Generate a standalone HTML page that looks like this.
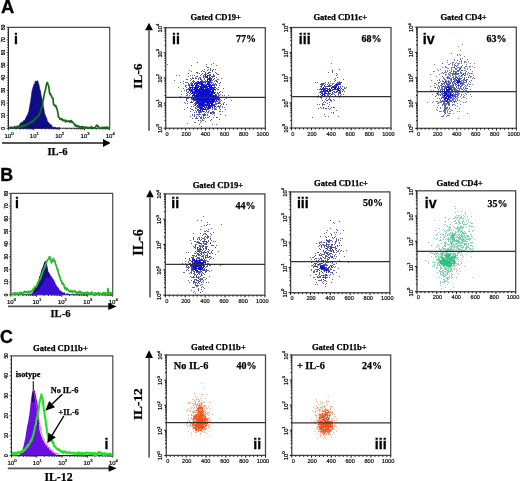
<!DOCTYPE html>
<html><head><meta charset="utf-8"><style>
html,body{margin:0;padding:0;background:#fff;width:520px;height:481px;overflow:hidden}
svg{display:block}
text{fill:#000}
</style></head><body>
<svg width="520" height="481" viewBox="0 0 520 481">
<defs><filter id="soft" x="-5%" y="-5%" width="110%" height="110%"><feGaussianBlur stdDeviation="0.3"/></filter><filter id="glob" x="0" y="0" width="520" height="481" filterUnits="userSpaceOnUse"><feGaussianBlur stdDeviation="0.35"/></filter></defs>
<rect width="520" height="481" fill="#fff"/>
<g filter="url(#glob)">
<rect width="520" height="481" fill="#fff"/>
<text x="1" y="12.9" font-family="'Liberation Sans',sans-serif" font-weight="bold" stroke="#000" stroke-width="0.3" font-size="18.4">A</text>
<text x="0.2" y="180.6" font-family="'Liberation Sans',sans-serif" font-weight="bold" stroke="#000" stroke-width="0.3" font-size="17.8">B</text>
<text x="0" y="343.2" font-family="'Liberation Sans',sans-serif" font-weight="bold" stroke="#000" stroke-width="0.3" font-size="17.8">C</text>
<path d="M8.4 27.3H109.7V128.3" fill="none" stroke="#4a4a4a" stroke-width="1.2"/>
<path d="M8.4 27.3V128.3H109.7" fill="none" stroke="#222" stroke-width="1.1"/>
<path d="M8.4 128.3h-1.8 M8.4 125.78h-1.1 M8.4 123.25h-1.1 M8.4 120.73h-1.1 M8.4 118.2h-1.1 M8.4 115.68h-1.8 M8.4 113.15h-1.1 M8.4 110.62h-1.1 M8.4 108.1h-1.1 M8.4 105.58h-1.1 M8.4 103.05h-1.8 M8.4 100.53h-1.1 M8.4 98h-1.1 M8.4 95.48h-1.1 M8.4 92.95h-1.1 M8.4 90.43h-1.8 M8.4 87.9h-1.1 M8.4 85.38h-1.1 M8.4 82.85h-1.1 M8.4 80.33h-1.1 M8.4 77.8h-1.8 M8.4 75.28h-1.1 M8.4 72.75h-1.1 M8.4 70.22h-1.1 M8.4 67.7h-1.1 M8.4 65.18h-1.8 M8.4 62.65h-1.1 M8.4 60.12h-1.1 M8.4 57.6h-1.1 M8.4 55.08h-1.1 M8.4 52.55h-1.8 M8.4 50.03h-1.1 M8.4 47.5h-1.1 M8.4 44.97h-1.1 M8.4 42.45h-1.1 M8.4 39.92h-1.8 M8.4 37.4h-1.1 M8.4 34.88h-1.1 M8.4 32.35h-1.1 M8.4 29.83h-1.1 M8.4 27.3h-1.8 M8.4 128.3v2.0 M16.02 128.3v1.2 M20.48 128.3v1.2 M23.65 128.3v1.2 M26.1 128.3v1.2 M28.11 128.3v1.2 M29.8 128.3v1.2 M31.27 128.3v1.2 M32.57 128.3v1.2 M33.73 128.3v2.0 M41.35 128.3v1.2 M45.81 128.3v1.2 M48.97 128.3v1.2 M51.43 128.3v1.2 M53.43 128.3v1.2 M55.13 128.3v1.2 M56.6 128.3v1.2 M57.89 128.3v1.2 M59.05 128.3v2.0 M66.67 128.3v1.2 M71.13 128.3v1.2 M74.3 128.3v1.2 M76.75 128.3v1.2 M78.76 128.3v1.2 M80.45 128.3v1.2 M81.92 128.3v1.2 M83.22 128.3v1.2 M84.38 128.3v2.0 M92 128.3v1.2 M96.46 128.3v1.2 M99.62 128.3v1.2 M102.08 128.3v1.2 M104.08 128.3v1.2 M105.78 128.3v1.2 M107.25 128.3v1.2 M108.54 128.3v1.2 M109.7 128.3v2" stroke="#222" stroke-width="0.9" fill="none"/>
<text x="9" y="137.5" font-family="'Liberation Sans',sans-serif" font-size="6" text-anchor="middle" fill="#111" stroke="#111" stroke-width="0.22">10<tspan font-size="4.2" dy="-2.8">0</tspan></text>
<text x="34.33" y="137.5" font-family="'Liberation Sans',sans-serif" font-size="6" text-anchor="middle" fill="#111" stroke="#111" stroke-width="0.22">10<tspan font-size="4.2" dy="-2.8">1</tspan></text>
<text x="59.65" y="137.5" font-family="'Liberation Sans',sans-serif" font-size="6" text-anchor="middle" fill="#111" stroke="#111" stroke-width="0.22">10<tspan font-size="4.2" dy="-2.8">2</tspan></text>
<text x="84.97" y="137.5" font-family="'Liberation Sans',sans-serif" font-size="6" text-anchor="middle" fill="#111" stroke="#111" stroke-width="0.22">10<tspan font-size="4.2" dy="-2.8">3</tspan></text>
<text x="110.3" y="137.5" font-family="'Liberation Sans',sans-serif" font-size="6" text-anchor="middle" fill="#111" stroke="#111" stroke-width="0.22">10<tspan font-size="4.2" dy="-2.8">4</tspan></text>
<text transform="translate(5,128.3) rotate(-90)" font-family="'Liberation Sans',sans-serif" font-size="4.8" text-anchor="middle" fill="#111" stroke="#111" stroke-width="0.22">0</text>
<text transform="translate(5,115.68) rotate(-90)" font-family="'Liberation Sans',sans-serif" font-size="4.8" text-anchor="middle" fill="#111" stroke="#111" stroke-width="0.22">10</text>
<text transform="translate(5,103.05) rotate(-90)" font-family="'Liberation Sans',sans-serif" font-size="4.8" text-anchor="middle" fill="#111" stroke="#111" stroke-width="0.22">20</text>
<text transform="translate(5,90.43) rotate(-90)" font-family="'Liberation Sans',sans-serif" font-size="4.8" text-anchor="middle" fill="#111" stroke="#111" stroke-width="0.22">30</text>
<text transform="translate(5,77.8) rotate(-90)" font-family="'Liberation Sans',sans-serif" font-size="4.8" text-anchor="middle" fill="#111" stroke="#111" stroke-width="0.22">40</text>
<text transform="translate(5,65.18) rotate(-90)" font-family="'Liberation Sans',sans-serif" font-size="4.8" text-anchor="middle" fill="#111" stroke="#111" stroke-width="0.22">50</text>
<text transform="translate(5,52.55) rotate(-90)" font-family="'Liberation Sans',sans-serif" font-size="4.8" text-anchor="middle" fill="#111" stroke="#111" stroke-width="0.22">60</text>
<text transform="translate(5,39.92) rotate(-90)" font-family="'Liberation Sans',sans-serif" font-size="4.8" text-anchor="middle" fill="#111" stroke="#111" stroke-width="0.22">70</text>
<text transform="translate(5,27.3) rotate(-90)" font-family="'Liberation Sans',sans-serif" font-size="4.8" text-anchor="middle" fill="#111" stroke="#111" stroke-width="0.22">80</text>
<path d="M9.0 127.8 L9.4 127.3 L9.9 128.3 L10.3 127.0 L10.8 127.3 L11.2 128.1 L11.7 128.3 L12.1 128.3 L12.6 127.3 L13.0 127.8 L13.5 128.3 L13.9 127.8 L14.4 127.4 L14.8 127.7 L15.3 128.3 L15.7 127.6 L16.2 127.1 L16.6 126.3 L17.1 127.4 L17.5 126.6 L18.0 126.5 L18.4 126.0 L18.9 125.6 L19.3 125.5 L19.8 124.2 L20.2 123.3 L20.7 123.0 L21.1 122.5 L21.6 123.6 L22.0 121.6 L22.5 122.8 L22.9 121.8 L23.4 121.5 L23.8 120.1 L24.3 120.9 L24.7 120.0 L25.2 119.4 L25.6 118.0 L26.1 117.7 L26.5 115.9 L27.0 116.1 L27.4 115.1 L27.9 114.1 L28.3 112.5 L28.8 111.5 L29.2 109.0 L29.7 106.1 L30.1 103.9 L30.6 101.2 L31.0 98.1 L31.5 94.8 L31.9 90.9 L32.4 89.8 L32.8 87.6 L33.3 87.1 L33.7 84.6 L34.2 84.9 L34.6 83.7 L35.1 81.5 L35.5 80.9 L36.0 81.2 L36.4 81.4 L36.9 81.0 L37.3 80.9 L37.8 80.6 L38.2 82.3 L38.7 83.7 L39.1 85.3 L39.6 87.9 L40.0 89.7 L40.5 90.8 L40.9 93.8 L41.4 96.4 L41.8 97.9 L42.3 100.5 L42.7 103.8 L43.2 105.6 L43.6 107.6 L44.1 109.9 L44.5 113.0 L45.0 114.6 L45.4 114.9 L45.9 117.0 L46.3 117.4 L46.8 118.3 L47.2 120.6 L47.7 121.4 L48.1 121.7 L48.6 122.7 L49.0 123.7 L49.5 123.2 L49.9 123.8 L50.4 125.3 L50.8 124.4 L51.3 124.7 L51.7 125.3 L52.2 127.1 L52.6 127.1 L53.1 127.7 L53.5 126.7 L54.0 128.2 L54.4 126.9 L54.9 128.3 L55.3 127.0 L55.8 127.4 L56.2 128.3 L56.7 128.2 L57.1 127.6 L57.6 127.9 L58.0 127.6 L58.5 128.3 L58.9 128.0 L59.4 127.3 L59.8 127.6 L60 128.3 L9.0 128.3 Z" fill="#0a0a86" stroke="#0a0a70" stroke-width="0.5"/>
<path d="M9.0 127.0 L9.5 128.2 L10.0 128.0 L10.5 127.6 L11.0 127.1 L11.5 128.3 L12.0 127.4 L12.5 127.8 L13.0 127.9 L13.5 127.1 L14.0 127.6 L14.5 126.9 L15.0 128.2 L15.5 126.8 L16.0 127.7 L16.5 127.3 L17.0 127.7 L17.5 126.2 L18.0 126.7 L18.5 126.8 L19.0 126.7 L19.5 127.2 L20.0 126.9 L20.5 127.1 L21.0 126.9 L21.5 125.7 L22.0 125.5 L22.5 126.4 L23.0 126.8 L23.5 125.7 L24.0 124.8 L24.5 125.0 L25.0 126.2 L25.5 125.3 L26.0 124.4 L26.5 125.3 L27.0 124.0 L27.5 124.1 L28.0 124.6 L28.5 123.0 L29.0 123.3 L29.5 123.1 L30.0 123.4 L30.5 122.5 L31.0 121.6 L31.5 122.1 L32.0 121.1 L32.5 121.5 L33.0 121.8 L33.5 121.4 L34.0 119.9 L34.5 119.2 L35.0 119.7 L35.5 118.3 L36.0 118.4 L36.5 117.3 L37.0 117.6 L37.5 116.7 L38.0 116.5 L38.5 116.0 L39.0 115.0 L39.5 113.8 L40.0 112.6 L40.5 110.8 L41.0 109.3 L41.5 108.2 L42.0 106.4 L42.5 105.5 L43.0 100.9 L43.5 98.8 L44.0 95.7 L44.5 93.3 L45.0 91.0 L45.5 89.5 L46.0 86.9 L46.5 84.3 L47.0 82.7 L47.5 82.7 L48.0 84.3 L48.5 85.5 L49.0 87.8 L49.5 92.6 L50.0 94.3 L50.5 93.9 L51.0 95.6 L51.5 96.0 L52.0 97.4 L52.5 98.1 L53.0 98.3 L53.5 104.1 L54.0 104.9 L54.5 105.6 L55.0 105.1 L55.5 106.4 L56.0 106.0 L56.5 108.0 L57.0 108.5 L57.5 110.9 L58.0 113.9 L58.5 116.8 L59.0 117.7 L59.5 117.7 L60.0 119.1 L60.5 119.3 L61.0 119.1 L61.5 119.6 L62.0 118.8 L62.5 119.9 L63.0 120.5 L63.5 120.1 L64.0 120.6 L64.5 120.5 L65.0 120.3 L65.5 121.6 L66.0 120.2 L66.5 121.3 L67.0 121.7 L67.5 121.5 L68.0 121.4 L68.5 120.8 L69.0 121.0 L69.5 121.8 L70.0 121.1 L70.5 122.1 L71.0 120.5 L71.5 120.8 L72.0 122.3 L72.5 121.9 L73.0 122.5 L73.5 123.0 L74.0 124.0 L74.5 124.5 L75.0 125.5 L75.5 124.5 L76.0 126.1 L76.5 126.4 L77.0 126.5 L77.5 125.8 L78.0 126.7 L78.5 125.9 L79.0 126.5 L79.5 127.5 L80.0 127.0 L80.5 126.8 L81.0 127.2 L81.5 126.6 L82.0 127.7 L82.5 126.6 L83.0 127.4 L83.5 127.0 L84.0 127.9 L84.5 128.2 L85.0 127.4 L85.5 127.0 L86.0 127.5 L86.5 127.5 L87.0 127.4 L87.5 127.7 L88.0 127.5 L88.5 128.3 L89.0 127.8 L89.5 127.3 L90.0 127.6 L90.5 128.1 L91.0 128.3 L91.5 126.7 L92.0 128.0 L92.5 127.4 L93.0 128.1 L93.5 127.9 L94.0 127.8 L94.5 128.3 L95.0 127.9 L95.5 127.7 L96.0 126.2 L96.5 125.7 L97.0 125.2 L97.5 125.5 L98.0 126.7 L98.5 126.5 L99.0 127.4 L99.5 128.1 L100.0 128.1 L100.5 128.0 L101.0 128.2 L101.5 128.1 L102.0 128.3 L102.5 127.2 L103.0 127.7 L103.5 128.2 L104.0 128.3 L104.5 127.3 L105.0 127.5 L105.5 127.4 L106.0 128.3 L106.5 127.2 L107.0 127.5 L107.5 127.3 L108.0 127.6 L108.5 128.0 L109.0 128.0" fill="none" stroke="#166816" stroke-width="1.7" stroke-linejoin="round"/>
<text x="14" y="43.8" font-family="'Liberation Sans',sans-serif" font-weight="bold" stroke="#000" stroke-width="0.3" font-size="14.2">i</text>
<path d="M2 143H104" stroke="#555" stroke-width="1.8"/><path d="M103 139L110.6 143L103 147Z" fill="#000"/>
<text x="57.5" y="154.6" font-family="'Liberation Serif',serif" font-weight="bold" stroke="#000" stroke-width="0.25" font-size="10.6" text-anchor="middle">IL-6</text>
<path d="M10.9 193.4H112.7V294.8" fill="none" stroke="#4a4a4a" stroke-width="1.2"/>
<path d="M10.9 193.4V294.8H112.7" fill="none" stroke="#222" stroke-width="1.1"/>
<path d="M10.9 294.8h-1.8 M10.9 292.26h-1.1 M10.9 289.73h-1.1 M10.9 287.19h-1.1 M10.9 284.66h-1.1 M10.9 282.12h-1.8 M10.9 279.59h-1.1 M10.9 277.06h-1.1 M10.9 274.52h-1.1 M10.9 271.99h-1.1 M10.9 269.45h-1.8 M10.9 266.92h-1.1 M10.9 264.38h-1.1 M10.9 261.85h-1.1 M10.9 259.31h-1.1 M10.9 256.77h-1.8 M10.9 254.24h-1.1 M10.9 251.71h-1.1 M10.9 249.17h-1.1 M10.9 246.63h-1.1 M10.9 244.1h-1.8 M10.9 241.56h-1.1 M10.9 239.03h-1.1 M10.9 236.5h-1.1 M10.9 233.96h-1.1 M10.9 231.43h-1.8 M10.9 228.89h-1.1 M10.9 226.36h-1.1 M10.9 223.82h-1.1 M10.9 221.29h-1.1 M10.9 218.75h-1.8 M10.9 216.22h-1.1 M10.9 213.68h-1.1 M10.9 211.15h-1.1 M10.9 208.61h-1.1 M10.9 206.07h-1.8 M10.9 203.54h-1.1 M10.9 201h-1.1 M10.9 198.47h-1.1 M10.9 195.94h-1.1 M10.9 193.4h-1.8 M10.9 294.8v2.0 M18.56 294.8v1.2 M23.04 294.8v1.2 M26.22 294.8v1.2 M28.69 294.8v1.2 M30.7 294.8v1.2 M32.41 294.8v1.2 M33.88 294.8v1.2 M35.19 294.8v1.2 M36.35 294.8v2.0 M44.01 294.8v1.2 M48.49 294.8v1.2 M51.67 294.8v1.2 M54.14 294.8v1.2 M56.15 294.8v1.2 M57.86 294.8v1.2 M59.33 294.8v1.2 M60.64 294.8v1.2 M61.8 294.8v2.0 M69.46 294.8v1.2 M73.94 294.8v1.2 M77.12 294.8v1.2 M79.59 294.8v1.2 M81.6 294.8v1.2 M83.31 294.8v1.2 M84.78 294.8v1.2 M86.09 294.8v1.2 M87.25 294.8v2.0 M94.91 294.8v1.2 M99.39 294.8v1.2 M102.57 294.8v1.2 M105.04 294.8v1.2 M107.05 294.8v1.2 M108.76 294.8v1.2 M110.23 294.8v1.2 M111.54 294.8v1.2 M112.7 294.8v2" stroke="#222" stroke-width="0.9" fill="none"/>
<text x="11.5" y="304" font-family="'Liberation Sans',sans-serif" font-size="6" text-anchor="middle" fill="#111" stroke="#111" stroke-width="0.22">10<tspan font-size="4.2" dy="-2.8">0</tspan></text>
<text x="36.95" y="304" font-family="'Liberation Sans',sans-serif" font-size="6" text-anchor="middle" fill="#111" stroke="#111" stroke-width="0.22">10<tspan font-size="4.2" dy="-2.8">1</tspan></text>
<text x="62.4" y="304" font-family="'Liberation Sans',sans-serif" font-size="6" text-anchor="middle" fill="#111" stroke="#111" stroke-width="0.22">10<tspan font-size="4.2" dy="-2.8">2</tspan></text>
<text x="87.85" y="304" font-family="'Liberation Sans',sans-serif" font-size="6" text-anchor="middle" fill="#111" stroke="#111" stroke-width="0.22">10<tspan font-size="4.2" dy="-2.8">3</tspan></text>
<text x="113.3" y="304" font-family="'Liberation Sans',sans-serif" font-size="6" text-anchor="middle" fill="#111" stroke="#111" stroke-width="0.22">10<tspan font-size="4.2" dy="-2.8">4</tspan></text>
<text transform="translate(7.5,294.8) rotate(-90)" font-family="'Liberation Sans',sans-serif" font-size="4.8" text-anchor="middle" fill="#111" stroke="#111" stroke-width="0.22">0</text>
<text transform="translate(7.5,282.12) rotate(-90)" font-family="'Liberation Sans',sans-serif" font-size="4.8" text-anchor="middle" fill="#111" stroke="#111" stroke-width="0.22">10</text>
<text transform="translate(7.5,269.45) rotate(-90)" font-family="'Liberation Sans',sans-serif" font-size="4.8" text-anchor="middle" fill="#111" stroke="#111" stroke-width="0.22">20</text>
<text transform="translate(7.5,256.77) rotate(-90)" font-family="'Liberation Sans',sans-serif" font-size="4.8" text-anchor="middle" fill="#111" stroke="#111" stroke-width="0.22">30</text>
<text transform="translate(7.5,244.1) rotate(-90)" font-family="'Liberation Sans',sans-serif" font-size="4.8" text-anchor="middle" fill="#111" stroke="#111" stroke-width="0.22">40</text>
<text transform="translate(7.5,231.43) rotate(-90)" font-family="'Liberation Sans',sans-serif" font-size="4.8" text-anchor="middle" fill="#111" stroke="#111" stroke-width="0.22">50</text>
<text transform="translate(7.5,218.75) rotate(-90)" font-family="'Liberation Sans',sans-serif" font-size="4.8" text-anchor="middle" fill="#111" stroke="#111" stroke-width="0.22">60</text>
<text transform="translate(7.5,206.07) rotate(-90)" font-family="'Liberation Sans',sans-serif" font-size="4.8" text-anchor="middle" fill="#111" stroke="#111" stroke-width="0.22">70</text>
<text transform="translate(7.5,193.4) rotate(-90)" font-family="'Liberation Sans',sans-serif" font-size="4.8" text-anchor="middle" fill="#111" stroke="#111" stroke-width="0.22">80</text>
<path d="M30.0 294.8 L30.5 293.8 L31.0 294.3 L31.5 293.2 L32.0 292.7 L32.5 293.0 L33.0 292.8 L33.5 290.5 L34.0 291.2 L34.5 288.7 L35.0 287.9 L35.5 287.3 L36.0 287.8 L36.5 285.6 L37.0 285.4 L37.5 282.8 L38.0 282.5 L38.5 281.7 L39.0 280.2 L39.5 278.3 L40.0 276.1 L40.5 275.1 L41.0 274.2 L41.5 270.9 L42.0 270.0 L42.5 268.0 L43.0 266.7 L43.5 266.2 L44.0 264.2 L44.5 262.9 L45.0 262.5 L45.5 261.7 L46.0 261.8 L46.5 264.2 L47.0 267.5 L47.5 271.1 L48.0 271.8 L48.5 272.6 L49.0 274.2 L49.5 273.8 L50.0 273.8 L50.5 275.0 L51.0 276.3 L51.5 276.6 L52.0 276.4 L52.5 278.6 L53.0 278.4 L53.5 279.6 L54.0 279.5 L54.5 281.7 L55.0 281.4 L55.5 283.8 L56.0 284.7 L56.5 284.9 L57.0 286.5 L57.5 286.8 L58.0 287.6 L58.5 287.6 L59.0 288.7 L59.5 290.4 L60.0 290.2 L60.5 290.3 L61.0 291.2 L61.5 291.2 L62.0 291.8 L62.5 292.4 L63.0 291.4 L63.5 292.7 L64.0 292.6 L64.5 291.9 L65.0 293.3 L65.5 294.0 L66.0 294.1 L66.5 293.6 L67.0 292.6 L67.5 293.4 L68.0 293.7 L68.5 293.6 L69.0 294.7 L69.5 294.8 L70.0 293.8 L70.5 294.8 L71.0 293.7 L71.5 294.5 L72.0 294.8 L72.5 294.3 L73.0 293.6 L73.5 294.8 L74.0 294.8 L74.5 294.7 L75.0 294.8 L75 294.8 L30 294.8 Z" fill="#3c10d8"/>
<path d="M33.0 292.7 L33.5 292.2 L34.0 290.6 L34.5 290.6 L35.0 288.6 L35.5 288.3 L36.0 286.7 L36.5 285.6 L37.0 284.6 L37.5 283.8 L38.0 282.2 L38.5 280.9 L39.0 280.0 L39.5 278.2 L40.0 276.1 L40.5 275.2 L41.0 273.2 L41.5 272.0 L42.0 269.5 L42.5 268.4 L43.0 267.7 L43.5 266.1 L44.0 264.5 L44.5 263.0 L45.0 261.5 L45.5 261.6 L46.0 262.1 L46.5 263.9 L47.0 267.1 L47.5 270.1 L48.0 271.9 L48.5 272.4 L49.0 273.7 L49 278 L46 276 L43 282 L38 290Z" fill="#1a0a90" stroke="#10085a" stroke-width="0.9"/>
<path d="M11.4 293.8 L11.9 294.2 L12.4 293.7 L12.9 293.5 L13.4 293.1 L13.9 294.6 L14.4 293.1 L14.9 294.6 L15.4 294.8 L15.9 292.7 L16.4 294.1 L16.9 294.2 L17.4 293.3 L17.9 293.0 L18.4 294.1 L18.9 293.6 L19.4 294.3 L19.9 293.0 L20.4 292.2 L20.9 292.3 L21.4 294.0 L21.9 293.0 L22.4 293.7 L22.9 293.0 L23.4 292.5 L23.9 292.6 L24.4 291.5 L24.9 292.8 L25.4 291.8 L25.9 291.5 L26.4 292.2 L26.9 292.7 L27.4 292.9 L27.9 291.7 L28.4 292.1 L28.9 291.2 L29.4 292.9 L29.9 292.3 L30.4 292.5 L30.9 291.1 L31.4 291.0 L31.9 291.5 L32.4 290.7 L32.9 290.7 L33.4 288.5 L33.9 288.5 L34.4 288.7 L34.9 286.9 L35.4 286.8 L35.9 287.0 L36.4 286.1 L36.9 285.8 L37.4 283.6 L37.9 283.6 L38.4 281.9 L38.9 281.0 L39.4 279.6 L39.9 279.8 L40.4 278.4 L40.9 277.4 L41.4 274.3 L41.9 274.9 L42.4 272.8 L42.9 271.4 L43.4 269.3 L43.9 269.2 L44.4 268.4 L44.9 265.5 L45.4 266.3 L45.9 263.7 L46.4 261.9 L46.9 261.3 L47.4 260.2 L47.9 259.6 L48.4 259.1 L48.9 259.0 L49.4 256.6 L49.9 257.0 L50.4 258.1 L50.9 259.8 L51.4 262.8 L51.9 261.8 L52.4 261.1 L52.9 260.5 L53.4 258.5 L53.9 260.5 L54.4 261.0 L54.9 261.0 L55.4 263.6 L55.9 264.7 L56.4 266.2 L56.9 267.5 L57.4 269.9 L57.9 269.7 L58.4 272.7 L58.9 274.5 L59.4 276.2 L59.9 276.7 L60.4 278.7 L60.9 280.4 L61.4 280.9 L61.9 283.0 L62.4 283.9 L62.9 283.1 L63.4 284.3 L63.9 285.0 L64.4 287.1 L64.9 288.8 L65.4 288.5 L65.9 287.7 L66.4 289.9 L66.9 289.2 L67.4 288.7 L67.9 289.4 L68.4 290.4 L68.9 291.2 L69.4 291.6 L69.9 291.1 L70.4 291.9 L70.9 290.5 L71.4 290.9 L71.9 291.4 L72.4 292.5 L72.9 291.1 L73.4 291.8 L73.9 291.2 L74.4 291.5 L74.9 290.8 L75.4 291.7 L75.9 292.9 L76.4 292.4 L76.9 293.2 L77.4 292.6 L77.9 292.0 L78.4 293.0 L78.9 292.0 L79.4 291.5 L79.9 292.8 L80.4 291.6 L80.9 291.6 L81.4 293.2 L81.9 294.0 L82.4 293.3 L82.9 292.7 L83.4 292.8 L83.9 293.5 L84.4 293.4 L84.9 292.7 L85.4 292.4 L85.9 294.0 L86.4 293.9 L86.9 293.0 L87.4 292.1 L87.9 292.6 L88.4 293.1 L88.9 294.3 L89.4 293.3 L89.9 294.1 L90.4 293.0 L90.9 293.9 L91.4 293.4 L91.9 292.2 L92.4 293.9 L92.9 294.6 L93.4 294.1 L93.9 294.6 L94.4 294.6 L94.9 292.9 L95.4 292.9 L95.9 294.5 L96.4 294.7 L96.9 293.2 L97.4 294.1 L97.9 293.7 L98.4 292.6 L98.9 293.8 L99.4 294.0 L99.9 293.2 L100.4 293.7 L100.9 294.0 L101.4 293.8 L101.9 293.7 L102.4 294.7 L102.9 292.9 L103.4 292.9 L103.9 294.6 L104.4 292.7 L104.9 293.0 L105.4 293.3 L105.9 293.4 L106.4 294.7 L106.9 293.3 L107.4 294.5 L107.9 288.6 L108.4 292.9 L108.9 292.9 L109.4 293.6 L109.9 294.5 L110.4 292.6 L110.9 293.2 L111.4 294.4 L111.9 293.2 L112.4 293.6" fill="none" stroke="#2ab82a" stroke-width="1.8" stroke-linejoin="round"/>
<text x="15" y="207.6" font-family="'Liberation Sans',sans-serif" font-weight="bold" stroke="#000" stroke-width="0.3" font-size="14.2">i</text>
<path d="M8 306.4H109" stroke="#555" stroke-width="1.8"/><path d="M108.3 302.8L116.6 306.4L108.3 310Z" fill="#000"/>
<text x="60.5" y="317.2" font-family="'Liberation Serif',serif" font-weight="bold" stroke="#000" stroke-width="0.25" font-size="10.6" text-anchor="middle">IL-6</text>
<path d="M11.4 355.9H112.8V455.6" fill="none" stroke="#4a4a4a" stroke-width="1.2"/>
<path d="M11.4 355.9V455.6H112.8" fill="none" stroke="#222" stroke-width="1.1"/>
<path d="M11.4 455.6h-1.8 M11.4 451.61h-1.1 M11.4 447.62h-1.1 M11.4 443.64h-1.1 M11.4 439.65h-1.1 M11.4 435.66h-1.8 M11.4 431.67h-1.1 M11.4 427.68h-1.1 M11.4 423.7h-1.1 M11.4 419.71h-1.1 M11.4 415.72h-1.8 M11.4 411.73h-1.1 M11.4 407.74h-1.1 M11.4 403.76h-1.1 M11.4 399.77h-1.1 M11.4 395.78h-1.8 M11.4 391.79h-1.1 M11.4 387.8h-1.1 M11.4 383.82h-1.1 M11.4 379.83h-1.1 M11.4 375.84h-1.8 M11.4 371.85h-1.1 M11.4 367.86h-1.1 M11.4 363.88h-1.1 M11.4 359.89h-1.1 M11.4 355.9h-1.8 M11.4 455.6v2.0 M19.03 455.6v1.2 M23.5 455.6v1.2 M26.66 455.6v1.2 M29.12 455.6v1.2 M31.13 455.6v1.2 M32.82 455.6v1.2 M34.29 455.6v1.2 M35.59 455.6v1.2 M36.75 455.6v2.0 M44.38 455.6v1.2 M48.85 455.6v1.2 M52.01 455.6v1.2 M54.47 455.6v1.2 M56.48 455.6v1.2 M58.17 455.6v1.2 M59.64 455.6v1.2 M60.94 455.6v1.2 M62.1 455.6v2.0 M69.73 455.6v1.2 M74.2 455.6v1.2 M77.36 455.6v1.2 M79.82 455.6v1.2 M81.83 455.6v1.2 M83.52 455.6v1.2 M84.99 455.6v1.2 M86.29 455.6v1.2 M87.45 455.6v2.0 M95.08 455.6v1.2 M99.55 455.6v1.2 M102.71 455.6v1.2 M105.17 455.6v1.2 M107.18 455.6v1.2 M108.87 455.6v1.2 M110.34 455.6v1.2 M111.64 455.6v1.2 M112.8 455.6v2" stroke="#222" stroke-width="0.9" fill="none"/>
<text x="12" y="464.8" font-family="'Liberation Sans',sans-serif" font-size="6" text-anchor="middle" fill="#111" stroke="#111" stroke-width="0.22">10<tspan font-size="4.2" dy="-2.8">0</tspan></text>
<text x="37.35" y="464.8" font-family="'Liberation Sans',sans-serif" font-size="6" text-anchor="middle" fill="#111" stroke="#111" stroke-width="0.22">10<tspan font-size="4.2" dy="-2.8">1</tspan></text>
<text x="62.7" y="464.8" font-family="'Liberation Sans',sans-serif" font-size="6" text-anchor="middle" fill="#111" stroke="#111" stroke-width="0.22">10<tspan font-size="4.2" dy="-2.8">2</tspan></text>
<text x="88.05" y="464.8" font-family="'Liberation Sans',sans-serif" font-size="6" text-anchor="middle" fill="#111" stroke="#111" stroke-width="0.22">10<tspan font-size="4.2" dy="-2.8">3</tspan></text>
<text x="113.4" y="464.8" font-family="'Liberation Sans',sans-serif" font-size="6" text-anchor="middle" fill="#111" stroke="#111" stroke-width="0.22">10<tspan font-size="4.2" dy="-2.8">4</tspan></text>
<text transform="translate(8,455.6) rotate(-90)" font-family="'Liberation Sans',sans-serif" font-size="4.8" text-anchor="middle" fill="#111" stroke="#111" stroke-width="0.22">0</text>
<text transform="translate(8,435.66) rotate(-90)" font-family="'Liberation Sans',sans-serif" font-size="4.8" text-anchor="middle" fill="#111" stroke="#111" stroke-width="0.22">10</text>
<text transform="translate(8,415.72) rotate(-90)" font-family="'Liberation Sans',sans-serif" font-size="4.8" text-anchor="middle" fill="#111" stroke="#111" stroke-width="0.22">20</text>
<text transform="translate(8,395.78) rotate(-90)" font-family="'Liberation Sans',sans-serif" font-size="4.8" text-anchor="middle" fill="#111" stroke="#111" stroke-width="0.22">30</text>
<text transform="translate(8,375.84) rotate(-90)" font-family="'Liberation Sans',sans-serif" font-size="4.8" text-anchor="middle" fill="#111" stroke="#111" stroke-width="0.22">40</text>
<text transform="translate(8,355.9) rotate(-90)" font-family="'Liberation Sans',sans-serif" font-size="4.8" text-anchor="middle" fill="#111" stroke="#111" stroke-width="0.22">50</text>
<path d="M18.0 455.4 L18.4 455.4 L18.9 454.9 L19.3 454.9 L19.8 454.8 L20.2 453.7 L20.7 452.9 L21.1 452.8 L21.6 452.3 L22.0 450.8 L22.5 449.6 L22.9 447.8 L23.4 446.8 L23.8 444.8 L24.3 442.6 L24.7 440.5 L25.2 438.8 L25.6 436.3 L26.1 432.6 L26.5 430.2 L27.0 427.1 L27.4 425.1 L27.9 423.0 L28.3 421.3 L28.8 417.5 L29.2 415.6 L29.7 411.6 L30.1 408.0 L30.6 403.3 L31.0 399.6 L31.5 396.5 L31.9 393.3 L32.4 392.4 L32.8 390.7 L33.3 390.6 L33.7 389.8 L34.2 390.1 L34.6 390.9 L35.1 391.9 L35.5 393.6 L36.0 395.7 L36.4 398.3 L36.9 400.4 L37.3 401.7 L37.8 405.9 L38.2 409.0 L38.7 415.6 L39.1 423.2 L39.6 430.5 L40.0 431.4 L40.5 433.7 L40.9 434.6 L41.4 436.2 L41.8 436.9 L42.3 438.1 L42.7 439.8 L43.2 440.5 L43.6 440.8 L44.1 441.9 L44.5 442.9 L45.0 443.4 L45.4 443.7 L45.9 445.4 L46.3 445.7 L46.8 445.5 L47.2 446.8 L47.7 447.7 L48.1 447.6 L48.6 447.7 L49.0 448.3 L49.5 449.9 L49.9 449.7 L50.4 450.3 L50.8 450.5 L51.3 450.8 L51.7 450.9 L52.2 451.7 L52.6 452.4 L53.1 452.7 L53.5 452.6 L54.0 453.0 L54.4 453.0 L54.9 454.3 L55.3 454.1 L55.8 454.0 L56.2 454.9 L56.7 454.3 L57.1 454.8 L57.6 454.9 L58 455.6 L18 455.6 Z" fill="#6a0ae0"/>
<path d="M31.8 402 L32.6 392 L33.4 389 L34.4 390 L35.2 402 Z" fill="#2a0080"/>
<path d="M33.3 381.3 V398" stroke="#111" stroke-width="1.1"/>
<path d="M33.5 389.9 L34.1 392.9 L34.7 396.5 L35.3 400.1 L35.9 404.2 L36.5 407.9 L37.1 411.2 L37.7 414.4 L38.3 417.5 L38.9 419.7 L39.5 423.0 L40.1 425.5 L40.7 428.9 L41.3 431.7 L41.9 434.5 L42.5 436.6 L43.1 438.1 L43.7 439.5 L44.3 440.2 L44.9 441.8 L45.5 442.6 L46.1 443.5 L46.7 444.7 L47.3 445.3 L47.9 446.4 L48.5 446.6 L49.1 447.3 L49.7 448.3 L50.3 449.0 L50.9 449.7 L51.5 450.2 L52.1 451.0 L52.7 450.9 L53.3 451.5 L53.9 452.4 L54.5 452.8 L55.1 453.4 L55.7 453.2 L56.3 453.3 L56.9 453.9 L57.5 453.5 L58.1 453.9 L58.7 454.1 L59.3 454.6 L59.9 454.2" fill="none" stroke="#e040c8" stroke-width="1.2" stroke-dasharray="1.4 1"/>
<path d="M11.9 453.1 L12.4 453.0 L12.9 454.5 L13.4 452.8 L13.9 454.8 L14.4 453.5 L14.9 453.3 L15.4 452.7 L15.9 454.4 L16.4 454.3 L16.9 453.9 L17.4 452.3 L17.9 452.0 L18.4 453.1 L18.9 452.7 L19.4 453.6 L19.9 452.4 L20.4 451.6 L20.9 451.8 L21.4 451.5 L21.9 452.3 L22.4 450.7 L22.9 451.8 L23.4 449.7 L23.9 450.1 L24.4 450.5 L24.9 450.3 L25.4 448.5 L25.9 448.4 L26.4 447.0 L26.9 446.5 L27.4 447.2 L27.9 444.7 L28.4 444.9 L28.9 445.0 L29.4 443.7 L29.9 442.9 L30.4 441.8 L30.9 440.2 L31.4 440.8 L31.9 439.6 L32.4 437.1 L32.9 436.5 L33.4 435.2 L33.9 431.3 L34.4 430.8 L34.9 427.2 L35.4 425.4 L35.9 424.0 L36.4 419.4 L36.9 418.9 L37.4 416.1 L37.9 412.4 L38.4 411.5 L38.9 407.7 L39.4 403.0 L39.9 400.2 L40.4 399.1 L40.9 396.8 L41.4 394.4 L41.9 397.1 L42.4 398.4 L42.9 400.8 L43.4 405.8 L43.9 409.3 L44.4 412.0 L44.9 417.0 L45.4 418.4 L45.9 423.3 L46.4 426.2 L46.9 430.4 L47.4 432.9 L47.9 436.4 L48.4 437.0 L48.9 439.6 L49.4 438.4 L49.9 439.0 L50.4 439.4 L50.9 440.1 L51.4 441.3 L51.9 440.6 L52.4 440.9 L52.9 443.3 L53.4 442.8 L53.9 445.4 L54.4 446.4 L54.9 446.3 L55.4 446.9 L55.9 447.8 L56.4 448.0 L56.9 448.7 L57.4 449.5 L57.9 449.0 L58.4 449.0 L58.9 450.5 L59.4 450.0 L59.9 450.2 L60.4 451.0 L60.9 451.5 L61.4 451.9 L61.9 451.4 L62.4 452.7 L62.9 451.3 L63.4 452.8 L63.9 451.7 L64.4 451.6 L64.9 451.4 L65.4 452.3 L65.9 451.9 L66.4 452.2 L66.9 453.4 L67.4 453.0 L67.9 452.8 L68.4 452.9 L68.9 452.0 L69.4 452.2 L69.9 452.7 L70.4 452.8 L70.9 453.1 L71.4 453.1 L71.9 453.0 L72.4 453.6 L72.9 453.7 L73.4 453.1 L73.9 452.6 L74.4 453.6 L74.9 453.7 L75.4 454.3 L75.9 453.9 L76.4 452.9 L76.9 454.3 L77.4 453.9 L77.9 452.7 L78.4 454.1 L78.9 452.5 L79.4 452.9 L79.9 454.3 L80.4 454.0 L80.9 454.4 L81.4 452.7 L81.9 453.0 L82.4 454.0 L82.9 453.0 L83.4 454.8 L83.9 453.5 L84.4 454.2 L84.9 453.1 L85.4 453.3 L85.9 452.6 L86.4 453.4 L86.9 452.9 L87.4 452.6 L87.9 453.9 L88.4 452.9 L88.9 452.8 L89.4 453.0 L89.9 454.4 L90.4 453.2 L90.9 452.9 L91.4 453.8 L91.9 453.4 L92.4 454.3 L92.9 454.6 L93.4 452.9 L93.9 453.2 L94.4 454.9 L94.9 453.1 L95.4 455.1 L95.9 454.3 L96.4 453.5 L96.9 454.9 L97.4 454.1 L97.9 452.5 L98.4 452.5 L98.9 453.5 L99.4 452.0 L99.9 453.6 L100.4 452.8 L100.9 452.5 L101.4 454.1 L101.9 453.0 L102.4 454.8 L102.9 454.0 L103.4 455.1 L103.9 453.5 L104.4 453.1 L104.9 454.5 L105.4 455.0 L105.9 454.9 L106.4 453.9 L106.9 453.6 L107.4 454.7 L107.9 454.8 L108.4 454.3 L108.9 453.9 L109.4 454.5 L109.9 453.5 L110.4 454.1 L110.9 455.0 L111.4 455.3 L111.9 454.3 L112.4 453.7" fill="none" stroke="#22e022" stroke-width="2.1" stroke-linejoin="round"/>
<text x="104.4" y="448.9" font-family="'Liberation Sans',sans-serif" font-weight="bold" stroke="#000" stroke-width="0.3" font-size="14.2">i</text>
<text x="15.8" y="377.3" font-family="'Liberation Serif',serif" font-weight="bold" stroke="#000" stroke-width="0.25" font-size="8.2">isotype</text>
<text x="50.8" y="392.7" font-family="'Liberation Serif',serif" font-weight="bold" stroke="#000" stroke-width="0.25" font-size="8.2">No IL-6</text>
<text x="58.6" y="414.5" font-family="'Liberation Serif',serif" font-weight="bold" stroke="#000" stroke-width="0.25" font-size="8.2">+IL-6</text>
<path d="M62.3 394.3L52.14 404.1" stroke="#000" stroke-width="1.4"/><path d="M45.3 410.7L49.15 401.01L55.12 407.2Z" fill="#000"/>
<path d="M63.8 416L52.15 435.09" stroke="#000" stroke-width="1.4"/><path d="M47.2 443.2L48.48 432.85L55.82 437.33Z" fill="#000"/>
<path d="M7.8 468.3H109" stroke="#555" stroke-width="1.8"/><path d="M108.6 465L116.7 468.3L108.6 471.8Z" fill="#000"/>
<text x="58.5" y="481.2" font-family="'Liberation Serif',serif" font-weight="bold" stroke="#000" stroke-width="0.25" font-size="11.8" text-anchor="middle">IL-12</text>
<text x="60.4" y="351.2" font-family="'Liberation Serif',serif" font-weight="bold" stroke="#000" stroke-width="0.25" font-size="8.6" text-anchor="middle">Gated CD11b+</text>
<path d="M149 30.3V130.7" stroke="#555" stroke-width="1.6"/><path d="M149 22.7L152.9 30.3L145.1 30.3Z" fill="#000"/>
<text transform="translate(141.7,76.1) rotate(-90)" font-family="'Liberation Serif',serif" font-weight="bold" stroke="#000" stroke-width="0.25" font-size="13.3" text-anchor="middle">IL-6</text>
<path d="M150 197.2V297.5" stroke="#555" stroke-width="1.6"/><path d="M150 189.8L153.8 197.2L146.2 197.2Z" fill="#000"/>
<text transform="translate(143.2,242.6) rotate(-90)" font-family="'Liberation Serif',serif" font-weight="bold" stroke="#000" stroke-width="0.25" font-size="14" text-anchor="middle">IL-6</text>
<path d="M149.1 357.9V457.5" stroke="#555" stroke-width="1.6"/><path d="M149.1 350.3L153 357.9L145.2 357.9Z" fill="#000"/>
<text transform="translate(141.8,404.2) rotate(-90)" font-family="'Liberation Serif',serif" font-weight="bold" stroke="#000" stroke-width="0.25" font-size="13.3" text-anchor="middle">IL-12</text>
<rect x="165.7" y="27.7" width="99.6" height="100.5" fill="none" stroke="#4a4a4a" stroke-width="1.3"/>
<path d="M165.7 128.2h-2.0 M165.7 120.64h-1.2 M165.7 116.21h-1.2 M165.7 113.07h-1.2 M165.7 110.64h-1.2 M165.7 108.65h-1.2 M165.7 106.97h-1.2 M165.7 105.51h-1.2 M165.7 104.22h-1.2 M165.7 103.07h-2.0 M165.7 95.51h-1.2 M165.7 91.09h-1.2 M165.7 87.95h-1.2 M165.7 85.51h-1.2 M165.7 83.52h-1.2 M165.7 81.84h-1.2 M165.7 80.38h-1.2 M165.7 79.1h-1.2 M165.7 77.95h-2.0 M165.7 70.39h-1.2 M165.7 65.96h-1.2 M165.7 62.82h-1.2 M165.7 60.39h-1.2 M165.7 58.4h-1.2 M165.7 56.72h-1.2 M165.7 55.26h-1.2 M165.7 53.97h-1.2 M165.7 52.83h-2.0 M165.7 45.26h-1.2 M165.7 40.84h-1.2 M165.7 37.7h-1.2 M165.7 35.26h-1.2 M165.7 33.27h-1.2 M165.7 31.59h-1.2 M165.7 30.13h-1.2 M165.7 28.85h-1.2 M165.7 27.7h-2 M165.7 128.2v2.2 M169.68 128.2v1.4 M173.67 128.2v1.4 M177.65 128.2v1.4 M181.64 128.2v1.4 M185.62 128.2v2.2 M189.6 128.2v1.4 M193.59 128.2v1.4 M197.57 128.2v1.4 M201.56 128.2v1.4 M205.54 128.2v2.2 M209.52 128.2v1.4 M213.51 128.2v1.4 M217.49 128.2v1.4 M221.48 128.2v1.4 M225.46 128.2v2.2 M229.44 128.2v1.4 M233.43 128.2v1.4 M237.41 128.2v1.4 M241.4 128.2v1.4 M245.38 128.2v2.2 M249.36 128.2v1.4 M253.35 128.2v1.4 M257.33 128.2v1.4 M261.32 128.2v1.4 M265.3 128.2v2.2" stroke="#111" stroke-width="1.0" fill="none"/>
<text x="167.1" y="135.8" font-family="'Liberation Sans',sans-serif" font-size="5.6" text-anchor="middle" fill="#111" stroke="#111" stroke-width="0.18">0</text>
<text x="186.22" y="135.8" font-family="'Liberation Sans',sans-serif" font-size="5.6" text-anchor="middle" fill="#111" stroke="#111" stroke-width="0.18">200</text>
<text x="205.34" y="135.8" font-family="'Liberation Sans',sans-serif" font-size="5.6" text-anchor="middle" fill="#111" stroke="#111" stroke-width="0.18">400</text>
<text x="224.46" y="135.8" font-family="'Liberation Sans',sans-serif" font-size="5.6" text-anchor="middle" fill="#111" stroke="#111" stroke-width="0.18">600</text>
<text x="243.58" y="135.8" font-family="'Liberation Sans',sans-serif" font-size="5.6" text-anchor="middle" fill="#111" stroke="#111" stroke-width="0.18">800</text>
<text x="262.7" y="135.8" font-family="'Liberation Sans',sans-serif" font-size="5.6" text-anchor="middle" fill="#111" stroke="#111" stroke-width="0.18">1000</text>
<text transform="translate(161.7,128.6) rotate(-90)" font-family="'Liberation Sans',sans-serif" font-size="5.8" text-anchor="middle" fill="#111" stroke="#111" stroke-width="0.22">10<tspan font-size="4.2" dy="-2.7">0</tspan></text>
<text transform="translate(161.7,103.47) rotate(-90)" font-family="'Liberation Sans',sans-serif" font-size="5.8" text-anchor="middle" fill="#111" stroke="#111" stroke-width="0.22">10<tspan font-size="4.2" dy="-2.7">1</tspan></text>
<text transform="translate(161.7,78.35) rotate(-90)" font-family="'Liberation Sans',sans-serif" font-size="5.8" text-anchor="middle" fill="#111" stroke="#111" stroke-width="0.22">10<tspan font-size="4.2" dy="-2.7">2</tspan></text>
<text transform="translate(161.7,53.23) rotate(-90)" font-family="'Liberation Sans',sans-serif" font-size="5.8" text-anchor="middle" fill="#111" stroke="#111" stroke-width="0.22">10<tspan font-size="4.2" dy="-2.7">3</tspan></text>
<text transform="translate(161.7,28.1) rotate(-90)" font-family="'Liberation Sans',sans-serif" font-size="5.8" text-anchor="middle" fill="#111" stroke="#111" stroke-width="0.22">10<tspan font-size="4.2" dy="-2.7">4</tspan></text>
<g filter="url(#soft)">
<path d="M215 102.5h1M221 104.5h1M191 109.5h1M186 97.5h1M212 114.5h1M217 89.5h1M189 95.5h1M195 103.5h1M214 88.5h1M196 106.5h1M220 101.5h1M189 84.5h1M220 99.5h1M193 82.5h1M217 103.5h1M183 88.5h1M218 105.5h1M215 109.5h1M193 101.5h1M219 100.5h1M215 103.5h1M219 108.5h1M224 107.5h1M217 92.5h1M219 95.5h1M224 102.5h1M185 97.5h1M215 92.5h1M208 117.5h1M186 89.5h1M221 100.5h1M212 84.5h1M187 89.5h1M216 103.5h1M216 107.5h1M224 99.5h1M219 101.5h1M198 79.5h1M189 93.5h1M194 103.5h1M190 94.5h1M187 94.5h1M187 101.5h1M191 99.5h1M189 85.5h1M186 87.5h1M187 98.5h1M187 92.5h1M186 91.5h1M188 84.5h1M226 104.5h1M220 94.5h1M218 95.5h1M220 91.5h1M202 80.5h1M225 115.5h1M204 82.5h1M204 111.5h1M193 80.5h1M218 96.5h1M219 103.5h1M223 103.5h1M204 79.5h1M184 102.5h1M186 100.5h1M209 116.5h1M212 109.5h1M220 111.5h1M222 111.5h1M187 107.5h1M202 73.5h1M188 89.5h1M215 90.5h1M217 93.5h1M192 81.5h1M206 109.5h1M195 108.5h1M206 111.5h1M188 91.5h1M203 76.5h1M185 86.5h1M191 65.5h1M183 81.5h1M219 99.5h1M216 104.5h1M222 107.5h1M218 89.5h1M208 109.5h1M208 112.5h1M219 106.5h1M220 106.5h1M223 88.5h1M213 83.5h1M200 75.5h1M196 76.5h1M222 106.5h1M179 75.5h1M224 95.5h1M184 90.5h1M188 92.5h1M220 97.5h1M186 93.5h1M188 76.5h1M190 78.5h1M213 111.5h1M196 104.5h1M194 114.5h1M199 73.5h1M194 81.5h1M183 83.5h1M198 112.5h1M219 102.5h1M194 105.5h1M192 75.5h1M216 85.5h1M214 113.5h1M212 111.5h1M190 83.5h1M211 112.5h1M220 109.5h1M222 92.5h1M190 111.5h1M197 82.5h1M215 108.5h1M192 77.5h1M214 108.5h1M191 82.5h1M181 91.5h1M213 117.5h1M196 112.5h1M192 78.5h1M217 101.5h1M191 106.5h1M220 105.5h1M192 98.5h1M186 85.5h1M217 117.5h1M190 75.5h1M190 97.5h1M191 83.5h1M187 103.5h1M231 100.5h1M199 77.5h1M201 80.5h1M217 106.5h1M212 108.5h1M186 79.5h1M205 112.5h1M191 71.5h1M215 104.5h1M218 100.5h1M205 80.5h1M214 115.5h1M218 97.5h1M187 79.5h1M187 82.5h1M190 85.5h1M212 124.5h1M219 119.5h1M220 114.5h1M225 109.5h1M190 80.5h1M214 109.5h1M198 114.5h1M190 116.5h1M214 112.5h1M194 75.5h1M196 116.5h1M207 115.5h1M228 95.5h1M202 120.5h1M192 109.5h1M176 75.5h1M186 82.5h1M218 94.5h1M204 118.5h1M173 97.5h1M216 88.5h1M188 98.5h1M216 94.5h1M181 94.5h1M216 124.5h1M180 82.5h1M186 98.5h1M193 100.5h1M196 72.5h1M210 120.5h1M210 108.5h1M191 79.5h1M198 110.5h1M199 124.5h1M220 103.5h1M217 82.5h1M226 97.5h1M222 95.5h1M195 107.5h1M191 102.5h1M195 78.5h1M185 103.5h1M216 109.5h1M195 77.5h1M204 74.5h1M197 62.5h1M187 123.5h1M190 108.5h1M218 93.5h1M193 104.5h1M192 102.5h1M186 95.5h1M189 88.5h1M192 84.5h1M167 64.5h1M188 85.5h1M180 96.5h1M184 109.5h1M219 111.5h1M188 83.5h1M189 70.5h1M194 122.5h1M214 107.5h1M186 90.5h1M226 98.5h1M185 82.5h1M187 95.5h1M198 78.5h1M185 85.5h1M178 87.5h1M207 114.5h1M196 78.5h1M174 80.5h1M211 119.5h1M210 72.5h1M200 77.5h1M214 81.5h1M219 85.5h1M210 70.5h1M203 81.5h1M204 71.5h1M216 65.5h1M206 64.5h1M201 71.5h1M215 83.5h1M213 69.5h1M217 79.5h1M210 74.5h1M212 77.5h1M212 80.5h1M205 73.5h1M202 70.5h1M210 68.5h1M213 84.5h1M220 82.5h1M214 86.5h1M213 75.5h1M207 78.5h1M211 83.5h1M201 79.5h1M212 71.5h1M214 75.5h1M204 81.5h1M211 76.5h1M209 74.5h1M204 76.5h1M212 82.5h1M214 76.5h1M206 74.5h1M207 70.5h1M216 77.5h1M217 81.5h1M218 87.5h1M208 69.5h1M205 81.5h1M211 80.5h1M215 84.5h1M216 84.5h1M203 71.5h1M197 73.5h1M218 79.5h1M208 67.5h1M214 84.5h1M215 69.5h1M221 78.5h1M201 74.5h1M208 73.5h1M204 69.5h1M210 69.5h1M216 80.5h1M213 74.5h1M210 77.5h1M213 63.5h1M215 80.5h1M208 75.5h1M215 72.5h1M204 78.5h1M209 76.5h1M207 67.5h1M206 66.5h1M201 117.5h1M199 111.5h1M195 118.5h1M199 114.5h1M199 113.5h1M197 118.5h1M203 116.5h1M196 108.5h1M192 114.5h1M193 110.5h1M202 114.5h1M194 115.5h1M200 118.5h1M193 106.5h1M204 114.5h1M196 111.5h1M203 118.5h1M200 117.5h1M196 117.5h1M194 116.5h1M200 122.5h1M200 114.5h1M200 112.5h1M209 110.5h1M197 106.5h1M197 114.5h1M195 110.5h1M196 114.5h1M192 115.5h1M201 121.5h1M192 118.5h1M203 117.5h1M205 121.5h1M205 115.5h1M198 111.5h1M207 112.5h1M205 117.5h1M203 120.5h1M202 119.5h1M212 112.5h1M198 115.5h1M196 118.5h1M200 120.5h1M201 116.5h1M204 113.5h1M207 117.5h1M201 126.5h1M205 114.5h1M195 122.5h1M201 112.5h1M211 64.5h1M217 74.5h1M218 74.5h1" stroke="#384088" stroke-opacity="0.8" stroke-width="1" fill="none"/>
<path d="M199 112.5h1M219 98.5h1M195 104.5h1M214 85.5h1M209 108.5h1M202 111.5h1M189 86.5h1M191 97.5h1M197 110.5h1M198 81.5h1M193 78.5h1M218 102.5h1M189 97.5h1M202 81.5h1M189 87.5h1M195 82.5h1M215 87.5h1M188 88.5h1M192 99.5h1M191 101.5h1M191 84.5h1M205 82.5h1M191 98.5h1M195 105.5h1M218 103.5h1M216 117.5h1M219 107.5h1M208 111.5h1M203 77.5h1M219 83.5h1M218 106.5h1M213 112.5h1M197 107.5h1M219 92.5h1M190 102.5h1M200 79.5h1M200 78.5h1M197 72.5h1M186 99.5h1M203 75.5h1M215 89.5h1M210 112.5h1M206 110.5h1M213 113.5h1M197 109.5h1M211 113.5h1M206 76.5h1M223 104.5h1M211 82.5h1M210 113.5h1M215 106.5h1M210 78.5h1M200 111.5h1M199 116.5h1M216 81.5h1M193 81.5h1M194 112.5h1M197 76.5h1M213 79.5h1M205 76.5h1M212 70.5h1M197 81.5h1M188 73.5h1M205 77.5h1M206 81.5h1M212 76.5h1M209 75.5h1M213 76.5h1M206 77.5h1M205 72.5h1M207 73.5h1M214 78.5h1M205 74.5h1M211 79.5h1M210 75.5h1M208 72.5h1M209 72.5h1M216 73.5h1M201 118.5h1M203 115.5h1M203 111.5h1M201 111.5h1M198 120.5h1M204 115.5h1M203 114.5h1" stroke="#384088" stroke-opacity="1.0" stroke-width="1" fill="none"/>
<path d="M212 93.5h1M193 91.5h1M195 93.5h1M208 83.5h1M197 100.5h1M190 89.5h1M211 98.5h1M200 106.5h1M214 92.5h1M193 97.5h1M215 99.5h1M209 103.5h1M190 88.5h1M198 104.5h1M196 86.5h1M206 103.5h1M192 83.5h1M206 107.5h1M216 98.5h1M197 93.5h1M197 84.5h1M210 100.5h1M196 102.5h1M206 104.5h1M197 85.5h1M196 92.5h1M206 84.5h1M196 100.5h1M211 102.5h1M201 102.5h1M192 90.5h1M192 87.5h1M216 96.5h1M195 98.5h1M198 106.5h1M213 87.5h1M213 89.5h1M216 101.5h1M198 103.5h1M195 89.5h1M216 99.5h1M199 106.5h1M214 98.5h1M190 92.5h1M217 96.5h1M210 86.5h1M215 101.5h1M213 93.5h1M199 84.5h1M200 84.5h1M212 105.5h1M200 90.5h1M211 88.5h1M213 97.5h1M214 87.5h1M199 101.5h1M215 95.5h1M209 102.5h1M213 104.5h1M209 88.5h1M207 81.5h1M207 109.5h1M194 90.5h1M207 107.5h1M213 105.5h1M197 86.5h1M197 103.5h1M210 106.5h1M214 95.5h1M205 83.5h1M212 95.5h1M192 89.5h1M212 106.5h1M195 100.5h1M194 98.5h1M193 93.5h1M194 87.5h1M203 82.5h1M218 98.5h1M198 86.5h1M210 93.5h1M200 101.5h1M192 86.5h1M208 104.5h1M206 88.5h1M210 85.5h1M195 102.5h1M207 87.5h1M203 84.5h1M194 83.5h1M196 83.5h1M212 88.5h1M198 105.5h1M196 82.5h1M204 106.5h1M202 106.5h1M192 96.5h1M204 85.5h1M193 92.5h1M212 85.5h1M194 91.5h1M201 106.5h1M202 82.5h1M211 106.5h1M190 91.5h1M201 81.5h1M200 108.5h1M208 89.5h1M213 85.5h1M194 99.5h1M190 90.5h1M199 110.5h1M214 104.5h1M198 107.5h1M216 95.5h1M202 85.5h1M207 108.5h1M202 107.5h1M200 83.5h1M217 99.5h1M199 108.5h1M208 85.5h1M209 82.5h1M207 82.5h1M208 78.5h1M210 79.5h1M211 78.5h1M209 77.5h1M209 80.5h1M210 81.5h1M210 82.5h1M205 75.5h1M210 92.5h1M209 84.5h1M199 83.5h1M207 76.5h1M208 79.5h1M204 102.5h1M201 109.5h1M204 104.5h1M199 107.5h1M198 109.5h1M202 109.5h1M197 105.5h1M205 107.5h1M200 82.5h1" stroke="#0808cc" stroke-opacity="0.8" stroke-width="1" fill="none"/>
<path d="M194 89.5h1M198 98.5h1M202 95.5h1M203 97.5h1M195 97.5h1M208 97.5h1M206 100.5h1M191 89.5h1M210 99.5h1M199 90.5h1M209 97.5h1M200 94.5h1M203 96.5h1M209 87.5h1M207 96.5h1M213 101.5h1M212 92.5h1M202 88.5h1M202 99.5h1M206 91.5h1M195 88.5h1M209 96.5h1M209 98.5h1M197 90.5h1M196 101.5h1M194 100.5h1M207 102.5h1M208 88.5h1M199 99.5h1M196 90.5h1M205 99.5h1M206 98.5h1M203 102.5h1M212 96.5h1M203 93.5h1M203 90.5h1M196 87.5h1M204 99.5h1M204 93.5h1M206 93.5h1M205 101.5h1M207 101.5h1M207 91.5h1M208 95.5h1M198 94.5h1M205 100.5h1M193 89.5h1M205 93.5h1M203 99.5h1M201 92.5h1M204 105.5h1M193 95.5h1M198 90.5h1M196 91.5h1M194 94.5h1M198 97.5h1M204 98.5h1M207 86.5h1M197 92.5h1M201 90.5h1M206 96.5h1M202 84.5h1M199 91.5h1M192 93.5h1M200 92.5h1M204 90.5h1M197 95.5h1M212 99.5h1M208 100.5h1M210 105.5h1M203 95.5h1M207 88.5h1M210 97.5h1M206 101.5h1M203 100.5h1M201 91.5h1M206 95.5h1M202 100.5h1M191 93.5h1M202 96.5h1M210 96.5h1M209 90.5h1M205 94.5h1M216 100.5h1M216 97.5h1M203 109.5h1M209 101.5h1M206 106.5h1M209 92.5h1M213 96.5h1M204 86.5h1M199 95.5h1M198 85.5h1M203 104.5h1M211 89.5h1M204 94.5h1M205 86.5h1M204 109.5h1M207 95.5h1M196 103.5h1M201 86.5h1M196 95.5h1M214 99.5h1M202 89.5h1M194 84.5h1M205 92.5h1M199 96.5h1M211 100.5h1M198 92.5h1M206 99.5h1M212 98.5h1M209 81.5h1M205 90.5h1M203 98.5h1M194 93.5h1M195 92.5h1M205 105.5h1M215 96.5h1M207 97.5h1M210 90.5h1M198 100.5h1M200 104.5h1M204 92.5h1M197 89.5h1M196 93.5h1M198 101.5h1M203 92.5h1M206 92.5h1M204 97.5h1M199 93.5h1M211 104.5h1M203 108.5h1M210 102.5h1M205 96.5h1M205 87.5h1M212 107.5h1M208 82.5h1M202 104.5h1M196 97.5h1M205 89.5h1M208 93.5h1M197 97.5h1M199 98.5h1M207 103.5h1M201 100.5h1M214 93.5h1M205 97.5h1M209 83.5h1M206 94.5h1M199 89.5h1M196 85.5h1M201 94.5h1M200 97.5h1M200 100.5h1M210 88.5h1M198 99.5h1M211 94.5h1M211 91.5h1M197 96.5h1M198 96.5h1M205 91.5h1M198 89.5h1M202 91.5h1M201 104.5h1M217 98.5h1M201 93.5h1M204 96.5h1M201 103.5h1M211 97.5h1M208 94.5h1M209 100.5h1M198 95.5h1M210 98.5h1M207 99.5h1M196 96.5h1M207 92.5h1M197 91.5h1M208 98.5h1M197 88.5h1M203 94.5h1M205 98.5h1M207 80.5h1M211 96.5h1M200 96.5h1M213 88.5h1M208 91.5h1M209 104.5h1M195 87.5h1M202 83.5h1M202 102.5h1M208 102.5h1M209 95.5h1M193 87.5h1M195 90.5h1M194 92.5h1M206 102.5h1M205 95.5h1M199 94.5h1M202 94.5h1M200 99.5h1M212 101.5h1M192 85.5h1M201 105.5h1M208 92.5h1M193 94.5h1M202 93.5h1M196 94.5h1M214 106.5h1M207 98.5h1M203 87.5h1M199 92.5h1M208 103.5h1M211 99.5h1M208 101.5h1M212 91.5h1M206 97.5h1M201 87.5h1M198 102.5h1M211 95.5h1M204 89.5h1M207 93.5h1M208 108.5h1M203 106.5h1M195 83.5h1M199 86.5h1M204 101.5h1M194 95.5h1M200 81.5h1M196 99.5h1M194 97.5h1M215 97.5h1M202 98.5h1M207 89.5h1M201 89.5h1M218 99.5h1M208 99.5h1M189 90.5h1M201 88.5h1M197 101.5h1M199 97.5h1M195 85.5h1M212 102.5h1M213 95.5h1M212 104.5h1M205 85.5h1M194 88.5h1M213 99.5h1M212 89.5h1M204 95.5h1M196 88.5h1M204 107.5h1M193 99.5h1M203 91.5h1M214 96.5h1M197 87.5h1M191 91.5h1M213 102.5h1M197 98.5h1M197 94.5h1M203 85.5h1M198 91.5h1M201 97.5h1M202 97.5h1M204 103.5h1M201 83.5h1M202 103.5h1M196 89.5h1M200 95.5h1M211 101.5h1M199 102.5h1M209 93.5h1M202 105.5h1M210 95.5h1M195 91.5h1M195 96.5h1M209 107.5h1M211 93.5h1M201 108.5h1M192 92.5h1M207 104.5h1M201 101.5h1M214 89.5h1M201 98.5h1M205 104.5h1M207 94.5h1M206 86.5h1M211 103.5h1M215 98.5h1M205 88.5h1M212 97.5h1M210 94.5h1M214 97.5h1M195 95.5h1M194 96.5h1M203 89.5h1M203 88.5h1M212 103.5h1M201 96.5h1M206 87.5h1M200 91.5h1M210 89.5h1M203 101.5h1M211 92.5h1M208 90.5h1M204 100.5h1M193 98.5h1M199 88.5h1M196 84.5h1M206 105.5h1M202 90.5h1M210 107.5h1M207 105.5h1M201 99.5h1M205 102.5h1M207 83.5h1M193 85.5h1M209 99.5h1M208 96.5h1M198 93.5h1M206 89.5h1M201 95.5h1M202 86.5h1M204 84.5h1M210 103.5h1M202 87.5h1M215 94.5h1M212 94.5h1M207 90.5h1M201 85.5h1M211 86.5h1M210 87.5h1M213 100.5h1M204 87.5h1M199 82.5h1M202 101.5h1M208 84.5h1M211 87.5h1M199 100.5h1M200 89.5h1M200 93.5h1M202 92.5h1M200 98.5h1M213 98.5h1M210 101.5h1M203 105.5h1M213 91.5h1M200 102.5h1M195 99.5h1M199 104.5h1M208 107.5h1M211 105.5h1M199 105.5h1M202 108.5h1M212 87.5h1M200 105.5h1M200 86.5h1M214 105.5h1M207 100.5h1M213 92.5h1M214 101.5h1M209 94.5h1M209 91.5h1M201 84.5h1M209 89.5h1M212 100.5h1M192 91.5h1M189 89.5h1M209 105.5h1M205 109.5h1M197 99.5h1M209 86.5h1M201 107.5h1M208 106.5h1M191 85.5h1M209 85.5h1M208 105.5h1M206 85.5h1M200 87.5h1M204 91.5h1M203 86.5h1M198 87.5h1M195 86.5h1M200 88.5h1M205 108.5h1M211 85.5h1M192 95.5h1M191 90.5h1M200 103.5h1M203 103.5h1M213 90.5h1M198 82.5h1M190 87.5h1M191 87.5h1M206 90.5h1M197 83.5h1M198 83.5h1M208 81.5h1M212 90.5h1M209 106.5h1M201 82.5h1M207 79.5h1M192 88.5h1M210 84.5h1M214 100.5h1M210 91.5h1M200 107.5h1M208 86.5h1M199 103.5h1M197 102.5h1M196 98.5h1M200 110.5h1M202 110.5h1M209 78.5h1M200 109.5h1M207 84.5h1M207 75.5h1M207 77.5h1M210 80.5h1M209 79.5h1" stroke="#0808cc" stroke-opacity="1.0" stroke-width="1" fill="none"/>
</g>
<path d="M165.7 97.3H265.3" stroke="#333" stroke-width="1.25"/>
<text x="215.7" y="19.5" font-family="'Liberation Serif',serif" font-weight="bold" stroke="#000" stroke-width="0.25" font-size="8.6" text-anchor="middle">Gated CD19+</text>
<text x="172.1" y="43.8" font-family="'Liberation Sans',sans-serif" font-weight="bold" stroke="#000" stroke-width="0.3" font-size="14.2">ii</text>
<text x="256" y="41.6" font-family="'Liberation Serif',serif" font-weight="bold" stroke="#000" stroke-width="0.25" font-size="10" text-anchor="end">77%</text>
<rect x="291.5" y="27.5" width="99.5" height="100.5" fill="none" stroke="#4a4a4a" stroke-width="1.3"/>
<path d="M291.5 128h-2.0 M291.5 120.44h-1.2 M291.5 116.01h-1.2 M291.5 112.87h-1.2 M291.5 110.44h-1.2 M291.5 108.45h-1.2 M291.5 106.77h-1.2 M291.5 105.31h-1.2 M291.5 104.02h-1.2 M291.5 102.88h-2.0 M291.5 95.31h-1.2 M291.5 90.89h-1.2 M291.5 87.75h-1.2 M291.5 85.31h-1.2 M291.5 83.32h-1.2 M291.5 81.64h-1.2 M291.5 80.18h-1.2 M291.5 78.9h-1.2 M291.5 77.75h-2.0 M291.5 70.19h-1.2 M291.5 65.76h-1.2 M291.5 62.62h-1.2 M291.5 60.19h-1.2 M291.5 58.2h-1.2 M291.5 56.52h-1.2 M291.5 55.06h-1.2 M291.5 53.77h-1.2 M291.5 52.62h-2.0 M291.5 45.06h-1.2 M291.5 40.64h-1.2 M291.5 37.5h-1.2 M291.5 35.06h-1.2 M291.5 33.07h-1.2 M291.5 31.39h-1.2 M291.5 29.93h-1.2 M291.5 28.65h-1.2 M291.5 27.5h-2 M291.5 128v2.2 M295.48 128v1.4 M299.46 128v1.4 M303.44 128v1.4 M307.42 128v1.4 M311.4 128v2.2 M315.38 128v1.4 M319.36 128v1.4 M323.34 128v1.4 M327.32 128v1.4 M331.3 128v2.2 M335.28 128v1.4 M339.26 128v1.4 M343.24 128v1.4 M347.22 128v1.4 M351.2 128v2.2 M355.18 128v1.4 M359.16 128v1.4 M363.14 128v1.4 M367.12 128v1.4 M371.1 128v2.2 M375.08 128v1.4 M379.06 128v1.4 M383.04 128v1.4 M387.02 128v1.4 M391 128v2.2" stroke="#111" stroke-width="1.0" fill="none"/>
<text x="292.9" y="135.6" font-family="'Liberation Sans',sans-serif" font-size="5.6" text-anchor="middle" fill="#111" stroke="#111" stroke-width="0.18">0</text>
<text x="312" y="135.6" font-family="'Liberation Sans',sans-serif" font-size="5.6" text-anchor="middle" fill="#111" stroke="#111" stroke-width="0.18">200</text>
<text x="331.1" y="135.6" font-family="'Liberation Sans',sans-serif" font-size="5.6" text-anchor="middle" fill="#111" stroke="#111" stroke-width="0.18">400</text>
<text x="350.2" y="135.6" font-family="'Liberation Sans',sans-serif" font-size="5.6" text-anchor="middle" fill="#111" stroke="#111" stroke-width="0.18">600</text>
<text x="369.3" y="135.6" font-family="'Liberation Sans',sans-serif" font-size="5.6" text-anchor="middle" fill="#111" stroke="#111" stroke-width="0.18">800</text>
<text x="388.4" y="135.6" font-family="'Liberation Sans',sans-serif" font-size="5.6" text-anchor="middle" fill="#111" stroke="#111" stroke-width="0.18">1000</text>
<text transform="translate(287.5,128.4) rotate(-90)" font-family="'Liberation Sans',sans-serif" font-size="5.8" text-anchor="middle" fill="#111" stroke="#111" stroke-width="0.22">10<tspan font-size="4.2" dy="-2.7">0</tspan></text>
<text transform="translate(287.5,103.28) rotate(-90)" font-family="'Liberation Sans',sans-serif" font-size="5.8" text-anchor="middle" fill="#111" stroke="#111" stroke-width="0.22">10<tspan font-size="4.2" dy="-2.7">1</tspan></text>
<text transform="translate(287.5,78.15) rotate(-90)" font-family="'Liberation Sans',sans-serif" font-size="5.8" text-anchor="middle" fill="#111" stroke="#111" stroke-width="0.22">10<tspan font-size="4.2" dy="-2.7">2</tspan></text>
<text transform="translate(287.5,53.02) rotate(-90)" font-family="'Liberation Sans',sans-serif" font-size="5.8" text-anchor="middle" fill="#111" stroke="#111" stroke-width="0.22">10<tspan font-size="4.2" dy="-2.7">3</tspan></text>
<text transform="translate(287.5,27.9) rotate(-90)" font-family="'Liberation Sans',sans-serif" font-size="5.8" text-anchor="middle" fill="#111" stroke="#111" stroke-width="0.22">10<tspan font-size="4.2" dy="-2.7">4</tspan></text>
<g filter="url(#soft)">
<path d="M321 83.5h1M322 83.5h1M345 88.5h1M338 94.5h1M328 85.5h1M320 96.5h1M320 89.5h1M333 93.5h1M320 94.5h1M336 83.5h1M339 96.5h1M321 95.5h1M333 91.5h1M329 84.5h1M326 86.5h1M333 83.5h1M338 93.5h1M322 96.5h1M325 82.5h1M318 95.5h1M324 86.5h1M327 94.5h1M343 79.5h1M322 85.5h1M321 85.5h1M344 88.5h1M330 81.5h1M317 96.5h1M346 87.5h1M331 85.5h1M320 86.5h1M338 92.5h1M343 89.5h1M329 94.5h1M334 91.5h1M339 81.5h1M334 94.5h1M339 97.5h1M330 83.5h1M341 96.5h1M332 93.5h1M341 94.5h1M342 89.5h1M328 82.5h1M323 84.5h1M340 84.5h1M319 92.5h1M327 95.5h1M339 82.5h1M325 95.5h1M317 97.5h1M327 93.5h1M340 90.5h1M328 95.5h1M327 84.5h1M324 83.5h1M335 95.5h1M340 91.5h1M330 86.5h1M343 90.5h1M330 85.5h1M328 94.5h1M340 87.5h1M332 83.5h1M339 93.5h1M338 82.5h1M344 91.5h1M343 94.5h1M332 94.5h1M337 83.5h1M321 98.5h1M325 87.5h1M330 95.5h1M330 93.5h1M329 96.5h1M336 92.5h1M321 97.5h1M328 83.5h1M317 89.5h1M335 84.5h1M344 87.5h1M340 82.5h1M332 90.5h1M331 90.5h1M340 95.5h1M338 95.5h1M332 84.5h1M321 91.5h1M334 79.5h1M321 92.5h1M334 92.5h1M321 87.5h1M321 84.5h1M340 89.5h1M325 84.5h1M319 104.5h1M334 107.5h1M324 104.5h1M312 117.5h1M328 108.5h1M336 110.5h1M322 104.5h1M328 116.5h1M323 102.5h1M324 114.5h1M330 99.5h1M326 108.5h1M326 98.5h1M331 100.5h1M329 98.5h1M328 99.5h1M318 108.5h1M326 100.5h1M322 105.5h1M334 100.5h1M329 102.5h1M323 104.5h1M329 99.5h1M323 108.5h1M333 99.5h1M325 108.5h1M331 101.5h1M317 104.5h1M321 108.5h1M324 101.5h1M325 102.5h1M320 107.5h1M325 116.5h1M331 107.5h1M330 108.5h1M329 104.5h1M322 103.5h1M333 112.5h1M322 100.5h1M331 112.5h1M325 99.5h1M329 97.5h1M329 109.5h1M333 113.5h1M338 116.5h1M327 103.5h1M334 81.5h1M337 74.5h1M332 71.5h1M336 75.5h1M337 82.5h1M336 73.5h1M337 77.5h1M332 72.5h1M335 78.5h1M339 69.5h1M328 72.5h1M335 80.5h1M331 63.5h1M315 82.5h1M317 82.5h1" stroke="#384088" stroke-opacity="0.8" stroke-width="1" fill="none"/>
<path d="M320 84.5h1M325 86.5h1M332 92.5h1M335 92.5h1M341 88.5h1M340 86.5h1M340 92.5h1M332 86.5h1M319 89.5h1M321 93.5h1M331 94.5h1M329 85.5h1M336 91.5h1M320 88.5h1M340 93.5h1M320 92.5h1M339 84.5h1M329 93.5h1M321 86.5h1M322 84.5h1M330 89.5h1M324 95.5h1M342 86.5h1M324 85.5h1M320 91.5h1M342 91.5h1M323 96.5h1M329 86.5h1M339 91.5h1M337 91.5h1M339 83.5h1M328 93.5h1M328 86.5h1M339 92.5h1M341 82.5h1M323 83.5h1M327 86.5h1M340 83.5h1M328 106.5h1M320 97.5h1M333 107.5h1M327 100.5h1M323 107.5h1M330 100.5h1M332 70.5h1" stroke="#384088" stroke-opacity="1.0" stroke-width="1" fill="none"/>
<path d="M336 86.5h1M323 91.5h1M324 91.5h1M334 86.5h1M322 93.5h1M323 88.5h1M332 87.5h1M325 89.5h1M337 90.5h1M325 91.5h1M324 90.5h1M326 91.5h1M338 88.5h1M325 88.5h1M329 89.5h1M326 88.5h1M323 89.5h1M333 89.5h1M324 92.5h1M334 89.5h1M328 91.5h1M324 88.5h1M327 88.5h1M325 90.5h1M335 85.5h1M327 89.5h1M338 83.5h1M336 89.5h1M337 89.5h1M325 92.5h1M334 85.5h1M336 87.5h1M337 84.5h1M321 90.5h1M328 89.5h1M326 93.5h1M337 85.5h1M322 94.5h1M322 92.5h1M322 89.5h1M335 89.5h1M329 91.5h1" stroke="#0808cc" stroke-opacity="0.8" stroke-width="1" fill="none"/>
<path d="M331 87.5h1M328 92.5h1M324 94.5h1M338 87.5h1M334 87.5h1M338 84.5h1M323 87.5h1M334 88.5h1M322 88.5h1M335 88.5h1M327 90.5h1M332 89.5h1M323 94.5h1M338 86.5h1M331 88.5h1M335 87.5h1M337 88.5h1M336 85.5h1M322 95.5h1M330 90.5h1M324 89.5h1M339 88.5h1M336 84.5h1M326 90.5h1M321 89.5h1M335 86.5h1M325 93.5h1M339 90.5h1M324 93.5h1M333 87.5h1M329 90.5h1M329 88.5h1M330 91.5h1M322 91.5h1M333 86.5h1M338 89.5h1M323 90.5h1M338 90.5h1M327 91.5h1" stroke="#0808cc" stroke-opacity="1.0" stroke-width="1" fill="none"/>
</g>
<path d="M291.5 96.7H391" stroke="#333" stroke-width="1.25"/>
<text x="340.3" y="19.6" font-family="'Liberation Serif',serif" font-weight="bold" stroke="#000" stroke-width="0.25" font-size="8.6" text-anchor="middle">Gated CD11c+</text>
<text x="298.8" y="43.8" font-family="'Liberation Sans',sans-serif" font-weight="bold" stroke="#000" stroke-width="0.3" font-size="14.2">iii</text>
<text x="381.4" y="41.7" font-family="'Liberation Serif',serif" font-weight="bold" stroke="#000" stroke-width="0.25" font-size="10" text-anchor="end">68%</text>
<rect x="417.2" y="27.2" width="99.1" height="101.1" fill="none" stroke="#4a4a4a" stroke-width="1.3"/>
<path d="M417.2 128.3h-2.0 M417.2 120.69h-1.2 M417.2 116.24h-1.2 M417.2 113.08h-1.2 M417.2 110.63h-1.2 M417.2 108.63h-1.2 M417.2 106.94h-1.2 M417.2 105.47h-1.2 M417.2 104.18h-1.2 M417.2 103.03h-2.0 M417.2 95.42h-1.2 M417.2 90.97h-1.2 M417.2 87.81h-1.2 M417.2 85.36h-1.2 M417.2 83.36h-1.2 M417.2 81.67h-1.2 M417.2 80.2h-1.2 M417.2 78.91h-1.2 M417.2 77.75h-2.0 M417.2 70.14h-1.2 M417.2 65.69h-1.2 M417.2 62.53h-1.2 M417.2 60.08h-1.2 M417.2 58.08h-1.2 M417.2 56.39h-1.2 M417.2 54.92h-1.2 M417.2 53.63h-1.2 M417.2 52.48h-2.0 M417.2 44.87h-1.2 M417.2 40.42h-1.2 M417.2 37.26h-1.2 M417.2 34.81h-1.2 M417.2 32.81h-1.2 M417.2 31.12h-1.2 M417.2 29.65h-1.2 M417.2 28.36h-1.2 M417.2 27.2h-2 M417.2 128.3v2.2 M421.16 128.3v1.4 M425.13 128.3v1.4 M429.09 128.3v1.4 M433.06 128.3v1.4 M437.02 128.3v2.2 M440.98 128.3v1.4 M444.95 128.3v1.4 M448.91 128.3v1.4 M452.88 128.3v1.4 M456.84 128.3v2.2 M460.8 128.3v1.4 M464.77 128.3v1.4 M468.73 128.3v1.4 M472.7 128.3v1.4 M476.66 128.3v2.2 M480.62 128.3v1.4 M484.59 128.3v1.4 M488.55 128.3v1.4 M492.52 128.3v1.4 M496.48 128.3v2.2 M500.44 128.3v1.4 M504.41 128.3v1.4 M508.37 128.3v1.4 M512.34 128.3v1.4 M516.3 128.3v2.2" stroke="#111" stroke-width="1.0" fill="none"/>
<text x="418.6" y="135.9" font-family="'Liberation Sans',sans-serif" font-size="5.6" text-anchor="middle" fill="#111" stroke="#111" stroke-width="0.18">0</text>
<text x="437.62" y="135.9" font-family="'Liberation Sans',sans-serif" font-size="5.6" text-anchor="middle" fill="#111" stroke="#111" stroke-width="0.18">200</text>
<text x="456.64" y="135.9" font-family="'Liberation Sans',sans-serif" font-size="5.6" text-anchor="middle" fill="#111" stroke="#111" stroke-width="0.18">400</text>
<text x="475.66" y="135.9" font-family="'Liberation Sans',sans-serif" font-size="5.6" text-anchor="middle" fill="#111" stroke="#111" stroke-width="0.18">600</text>
<text x="494.68" y="135.9" font-family="'Liberation Sans',sans-serif" font-size="5.6" text-anchor="middle" fill="#111" stroke="#111" stroke-width="0.18">800</text>
<text x="513.7" y="135.9" font-family="'Liberation Sans',sans-serif" font-size="5.6" text-anchor="middle" fill="#111" stroke="#111" stroke-width="0.18">1000</text>
<text transform="translate(413.2,128.7) rotate(-90)" font-family="'Liberation Sans',sans-serif" font-size="5.8" text-anchor="middle" fill="#111" stroke="#111" stroke-width="0.22">10<tspan font-size="4.2" dy="-2.7">0</tspan></text>
<text transform="translate(413.2,103.43) rotate(-90)" font-family="'Liberation Sans',sans-serif" font-size="5.8" text-anchor="middle" fill="#111" stroke="#111" stroke-width="0.22">10<tspan font-size="4.2" dy="-2.7">1</tspan></text>
<text transform="translate(413.2,78.15) rotate(-90)" font-family="'Liberation Sans',sans-serif" font-size="5.8" text-anchor="middle" fill="#111" stroke="#111" stroke-width="0.22">10<tspan font-size="4.2" dy="-2.7">2</tspan></text>
<text transform="translate(413.2,52.88) rotate(-90)" font-family="'Liberation Sans',sans-serif" font-size="5.8" text-anchor="middle" fill="#111" stroke="#111" stroke-width="0.22">10<tspan font-size="4.2" dy="-2.7">3</tspan></text>
<text transform="translate(413.2,27.6) rotate(-90)" font-family="'Liberation Sans',sans-serif" font-size="5.8" text-anchor="middle" fill="#111" stroke="#111" stroke-width="0.22">10<tspan font-size="4.2" dy="-2.7">4</tspan></text>
<g filter="url(#soft)">
<path d="M452 62.5h1M466 77.5h1M455 93.5h1M465 61.5h1M454 59.5h1M434 71.5h1M444 79.5h1M457 103.5h1M465 93.5h1M474 67.5h1M465 87.5h1M453 70.5h1M445 80.5h1M465 75.5h1M457 71.5h1M449 77.5h1M460 67.5h1M454 65.5h1M436 93.5h1M459 90.5h1M448 68.5h1M470 63.5h1M467 73.5h1M467 92.5h1M460 69.5h1M438 83.5h1M434 85.5h1M453 78.5h1M442 67.5h1M430 74.5h1M469 84.5h1M438 85.5h1M461 85.5h1M467 68.5h1M461 66.5h1M470 73.5h1M463 94.5h1M460 71.5h1M466 101.5h1M444 104.5h1M455 91.5h1M457 97.5h1M451 86.5h1M473 75.5h1M468 72.5h1M460 76.5h1M474 63.5h1M467 85.5h1M452 85.5h1M443 85.5h1M471 73.5h1M454 79.5h1M457 74.5h1M448 77.5h1M439 102.5h1M450 75.5h1M433 90.5h1M469 86.5h1M437 69.5h1M470 94.5h1M444 78.5h1M461 95.5h1M450 76.5h1M459 91.5h1M458 67.5h1M455 85.5h1M461 81.5h1M449 74.5h1M448 78.5h1M463 88.5h1M437 92.5h1M445 72.5h1M453 74.5h1M454 60.5h1M463 102.5h1M456 96.5h1M465 74.5h1M447 68.5h1M457 100.5h1M465 72.5h1M460 58.5h1M455 69.5h1M460 91.5h1M462 91.5h1M448 73.5h1M453 77.5h1M438 86.5h1M454 82.5h1M451 85.5h1M464 97.5h1M462 92.5h1M467 113.5h1M461 61.5h1M441 94.5h1M456 62.5h1M460 59.5h1M456 72.5h1M441 84.5h1M448 76.5h1M465 73.5h1M461 73.5h1M472 66.5h1M461 72.5h1M467 74.5h1M446 74.5h1M463 90.5h1M464 80.5h1M453 67.5h1M457 63.5h1M455 80.5h1M465 82.5h1M431 90.5h1M446 77.5h1M468 76.5h1M442 93.5h1M447 76.5h1M437 80.5h1M461 86.5h1M450 80.5h1M454 102.5h1M442 72.5h1M456 71.5h1M434 87.5h1M454 64.5h1M464 84.5h1M464 70.5h1M466 94.5h1M466 62.5h1M463 80.5h1M441 87.5h1M459 63.5h1M436 76.5h1M453 82.5h1M464 68.5h1M473 77.5h1M460 101.5h1M451 70.5h1M444 87.5h1M445 71.5h1M460 82.5h1M454 66.5h1M464 61.5h1M452 65.5h1M446 67.5h1M470 84.5h1M427 102.5h1M467 69.5h1M445 75.5h1M458 97.5h1M449 85.5h1M443 77.5h1M461 78.5h1M434 64.5h1M453 86.5h1M471 96.5h1M451 93.5h1M458 46.5h1M447 81.5h1M453 101.5h1M461 60.5h1M462 84.5h1M441 88.5h1M446 81.5h1M452 64.5h1M468 92.5h1M461 84.5h1M459 93.5h1M445 70.5h1M469 73.5h1M470 66.5h1M457 77.5h1M461 98.5h1M440 107.5h1M450 78.5h1M459 70.5h1M439 74.5h1M435 83.5h1M442 83.5h1M459 108.5h1M450 63.5h1M455 90.5h1M436 84.5h1M458 118.5h1M443 78.5h1M446 80.5h1M461 80.5h1M455 76.5h1M457 95.5h1M458 94.5h1M445 74.5h1M451 78.5h1M452 63.5h1M441 86.5h1M450 79.5h1M470 77.5h1M438 105.5h1M444 84.5h1M451 68.5h1M449 75.5h1M439 79.5h1M451 69.5h1M455 63.5h1M458 87.5h1M455 78.5h1M455 75.5h1M450 72.5h1M465 85.5h1M463 96.5h1M432 102.5h1M445 66.5h1M462 65.5h1M451 73.5h1M469 67.5h1M466 86.5h1M467 84.5h1M472 73.5h1M440 89.5h1M459 54.5h1M448 74.5h1M439 91.5h1M454 94.5h1M447 62.5h1M462 58.5h1M438 82.5h1M460 79.5h1M444 72.5h1M440 69.5h1M455 95.5h1M437 87.5h1M461 88.5h1M440 81.5h1M458 83.5h1M447 83.5h1M447 71.5h1M467 79.5h1M440 102.5h1M472 84.5h1M453 96.5h1M461 89.5h1M466 64.5h1M433 101.5h1M459 88.5h1M462 77.5h1M465 68.5h1M466 82.5h1M439 86.5h1M459 77.5h1M463 84.5h1M433 71.5h1M464 67.5h1M464 77.5h1M437 110.5h1M449 83.5h1M442 84.5h1M448 80.5h1M453 88.5h1M431 91.5h1M431 80.5h1M456 73.5h1M464 73.5h1M472 78.5h1M449 82.5h1M459 68.5h1M458 64.5h1M456 69.5h1M452 73.5h1M458 95.5h1M459 67.5h1M454 78.5h1M432 91.5h1M468 83.5h1M465 70.5h1M464 95.5h1M456 76.5h1M446 72.5h1M443 89.5h1M455 99.5h1M460 55.5h1M461 76.5h1M457 54.5h1M449 64.5h1M448 64.5h1M455 81.5h1M449 70.5h1M463 82.5h1M472 71.5h1M438 103.5h1M457 88.5h1M466 98.5h1M460 50.5h1M456 92.5h1M437 88.5h1M470 76.5h1M463 97.5h1M453 72.5h1M463 87.5h1M464 86.5h1M446 107.5h1M445 85.5h1M436 95.5h1M441 73.5h1M462 80.5h1M451 53.5h1M458 74.5h1M447 60.5h1M449 108.5h1M461 82.5h1M456 90.5h1M458 63.5h1M457 55.5h1M458 90.5h1M464 56.5h1M453 94.5h1M460 73.5h1M460 104.5h1M465 90.5h1M470 82.5h1M470 91.5h1M451 67.5h1M461 63.5h1M455 108.5h1M455 71.5h1M448 83.5h1M451 71.5h1M440 85.5h1M457 67.5h1M458 92.5h1M452 77.5h1M460 88.5h1M438 70.5h1M456 68.5h1M463 91.5h1M461 62.5h1M462 82.5h1M458 78.5h1M447 70.5h1M465 102.5h1M452 84.5h1M462 44.5h1M449 72.5h1M471 76.5h1M452 67.5h1M459 61.5h1M466 91.5h1M439 87.5h1M468 61.5h1M469 66.5h1M432 94.5h1M455 89.5h1M450 109.5h1M438 95.5h1M459 89.5h1M442 80.5h1M449 103.5h1M456 101.5h1M457 96.5h1M457 93.5h1M443 100.5h1M448 105.5h1M458 93.5h1M440 94.5h1M453 87.5h1M442 81.5h1M452 105.5h1M442 100.5h1M440 101.5h1M434 83.5h1M438 92.5h1M441 97.5h1M452 102.5h1M453 97.5h1M437 101.5h1M438 90.5h1M456 98.5h1M449 92.5h1M438 93.5h1M452 98.5h1M447 103.5h1M437 98.5h1M441 89.5h1M438 102.5h1M449 86.5h1M439 94.5h1M449 102.5h1M444 100.5h1M452 104.5h1M449 101.5h1M443 98.5h1M451 92.5h1M457 91.5h1M453 99.5h1M459 100.5h1M445 79.5h1M442 87.5h1M439 88.5h1M441 93.5h1M451 100.5h1M438 94.5h1M453 100.5h1M442 95.5h1M452 100.5h1M439 98.5h1M445 103.5h1M451 98.5h1M455 101.5h1M460 96.5h1M451 80.5h1M440 100.5h1M455 100.5h1M442 96.5h1M452 91.5h1M430 86.5h1M442 104.5h1M440 99.5h1M437 94.5h1M457 106.5h1M445 110.5h1M441 102.5h1M445 105.5h1M443 115.5h1M445 112.5h1M440 108.5h1M453 113.5h1M444 114.5h1M445 111.5h1M449 107.5h1M440 111.5h1M447 112.5h1M449 105.5h1M447 110.5h1M444 111.5h1M443 111.5h1M452 110.5h1M444 107.5h1M447 108.5h1M444 108.5h1M441 111.5h1M450 113.5h1M453 104.5h1M448 113.5h1M445 109.5h1M451 110.5h1M455 105.5h1M447 111.5h1M449 113.5h1M446 103.5h1M443 102.5h1M442 105.5h1M445 107.5h1M437 103.5h1M439 111.5h1M448 115.5h1M443 116.5h1M444 106.5h1M449 111.5h1M436 109.5h1M441 116.5h1M446 108.5h1M449 115.5h1M445 104.5h1M454 104.5h1M442 116.5h1M450 111.5h1M446 116.5h1M446 109.5h1M443 110.5h1M438 89.5h1M459 111.5h1M457 111.5h1M454 74.5h1" stroke="#3a4698" stroke-opacity="0.7" stroke-width="1" fill="none"/>
<path d="M444 88.5h1M444 82.5h1M448 82.5h1M453 81.5h1M445 86.5h1M437 107.5h1M439 80.5h1M457 60.5h1M466 79.5h1M456 87.5h1M458 91.5h1M465 66.5h1M449 81.5h1M453 71.5h1M467 59.5h1M450 85.5h1M466 66.5h1M437 93.5h1M460 78.5h1M453 62.5h1M453 89.5h1M460 87.5h1M471 80.5h1M464 89.5h1M455 79.5h1M460 86.5h1M465 80.5h1M458 76.5h1M453 73.5h1M439 82.5h1M443 86.5h1M455 84.5h1M466 71.5h1M464 79.5h1M453 93.5h1M461 94.5h1M443 73.5h1M467 88.5h1M452 87.5h1M454 89.5h1M457 73.5h1M443 81.5h1M462 85.5h1M435 96.5h1M452 83.5h1M461 67.5h1M455 68.5h1M455 94.5h1M441 85.5h1M459 78.5h1M457 83.5h1M453 76.5h1M446 84.5h1M462 89.5h1M455 88.5h1M447 77.5h1M463 73.5h1M458 88.5h1M465 88.5h1M443 83.5h1M457 85.5h1M447 84.5h1M440 95.5h1M457 94.5h1M445 81.5h1M457 90.5h1M454 73.5h1M462 70.5h1M461 70.5h1M474 78.5h1M469 81.5h1M459 69.5h1M450 73.5h1M450 82.5h1M448 84.5h1M454 81.5h1M455 72.5h1M458 73.5h1M442 76.5h1M462 75.5h1M444 86.5h1M443 104.5h1M445 88.5h1M458 70.5h1M452 74.5h1M442 90.5h1M452 82.5h1M470 89.5h1M468 77.5h1M445 67.5h1M456 84.5h1M443 103.5h1M466 90.5h1M469 75.5h1M457 70.5h1M453 84.5h1M457 99.5h1M462 74.5h1M442 88.5h1M455 74.5h1M466 81.5h1M436 101.5h1M443 96.5h1M464 62.5h1M462 83.5h1M460 84.5h1M446 82.5h1M470 69.5h1M458 86.5h1M455 92.5h1M463 83.5h1M454 71.5h1M454 87.5h1M463 79.5h1M459 85.5h1M454 101.5h1M463 74.5h1M464 82.5h1M464 75.5h1M442 86.5h1M447 78.5h1M456 66.5h1M451 87.5h1M457 92.5h1M443 97.5h1M453 79.5h1M466 88.5h1M435 87.5h1M455 65.5h1M446 83.5h1M453 98.5h1M456 89.5h1M456 86.5h1M458 71.5h1M463 81.5h1M446 86.5h1M442 63.5h1M459 75.5h1M460 72.5h1M454 80.5h1M442 92.5h1M453 95.5h1M436 91.5h1M442 89.5h1M450 86.5h1M441 98.5h1M454 98.5h1M450 101.5h1M442 101.5h1M444 102.5h1M444 97.5h1M444 103.5h1M443 101.5h1M444 101.5h1M446 104.5h1M447 107.5h1M451 101.5h1M448 109.5h1M448 101.5h1M449 104.5h1M444 105.5h1M444 110.5h1M445 113.5h1M447 115.5h1" stroke="#3a4698" stroke-opacity="0.9" stroke-width="1" fill="none"/>
<path d="M452 90.5h1M460 83.5h1M455 83.5h1M454 67.5h1M460 81.5h1M458 84.5h1M456 74.5h1M453 85.5h1M455 77.5h1M451 79.5h1M454 95.5h1M450 83.5h1M456 77.5h1M448 102.5h1M456 94.5h1M455 97.5h1M455 96.5h1M441 83.5h1M456 79.5h1M445 87.5h1M447 85.5h1M444 83.5h1M449 84.5h1M458 85.5h1M457 65.5h1M452 75.5h1M451 81.5h1M459 79.5h1M445 100.5h1M454 88.5h1M445 82.5h1M454 90.5h1M448 81.5h1M448 104.5h1M452 92.5h1M454 96.5h1M445 101.5h1M455 73.5h1M454 83.5h1M466 80.5h1M461 75.5h1M450 100.5h1M444 109.5h1M449 78.5h1M460 68.5h1M452 86.5h1M464 78.5h1M440 90.5h1M461 83.5h1M445 108.5h1M440 92.5h1M442 97.5h1M443 91.5h1M448 103.5h1M449 100.5h1M442 94.5h1M451 90.5h1M453 91.5h1M452 99.5h1M449 93.5h1M441 101.5h1M445 106.5h1M444 112.5h1" stroke="#3a4698" stroke-opacity="1.0" stroke-width="1" fill="none"/>
<path d="M447 91.5h1M451 89.5h1M448 88.5h1M447 86.5h1M458 80.5h1M448 93.5h1M450 87.5h1M448 85.5h1M452 94.5h1M444 98.5h1M447 94.5h1M446 87.5h1M447 93.5h1M451 94.5h1M447 92.5h1M444 94.5h1M452 89.5h1M446 100.5h1M451 88.5h1M449 90.5h1M448 94.5h1M451 91.5h1M447 101.5h1M450 92.5h1M449 94.5h1M450 98.5h1M446 95.5h1M449 95.5h1M445 99.5h1" stroke="#1018c0" stroke-opacity="0.8" stroke-width="1" fill="none"/>
<path d="M450 88.5h1M457 80.5h1M444 92.5h1M446 97.5h1M449 87.5h1M449 88.5h1M443 93.5h1M449 96.5h1M450 89.5h1M450 96.5h1M458 81.5h1M448 89.5h1M448 97.5h1M450 91.5h1M457 78.5h1M450 93.5h1M456 82.5h1M448 87.5h1M459 81.5h1M446 91.5h1M458 82.5h1M444 89.5h1M452 96.5h1M446 90.5h1M444 93.5h1M447 100.5h1M458 79.5h1M448 90.5h1M448 98.5h1M445 92.5h1M457 82.5h1M449 89.5h1M444 99.5h1M447 90.5h1M456 80.5h1M459 80.5h1M446 92.5h1M446 94.5h1M451 95.5h1M446 98.5h1M450 97.5h1M448 96.5h1M446 96.5h1M447 96.5h1M457 81.5h1M445 94.5h1M447 98.5h1M444 91.5h1M445 91.5h1M446 88.5h1M447 89.5h1M446 89.5h1M445 95.5h1M459 82.5h1M449 97.5h1M448 95.5h1M448 86.5h1M448 99.5h1M443 95.5h1M444 90.5h1M450 95.5h1M445 97.5h1M451 97.5h1M449 99.5h1M446 93.5h1M445 93.5h1M447 99.5h1M447 95.5h1M444 95.5h1M445 98.5h1M446 101.5h1M444 96.5h1M452 95.5h1M448 91.5h1M447 87.5h1M447 102.5h1M448 92.5h1M450 94.5h1" stroke="#1018c0" stroke-opacity="1.0" stroke-width="1" fill="none"/>
</g>
<path d="M417.2 91.7H516.3" stroke="#333" stroke-width="1.25"/>
<text x="463.5" y="19.6" font-family="'Liberation Serif',serif" font-weight="bold" stroke="#000" stroke-width="0.25" font-size="8.6" text-anchor="middle">Gated CD4+</text>
<text x="422.8" y="43.8" font-family="'Liberation Sans',sans-serif" font-weight="bold" stroke="#000" stroke-width="0.3" font-size="14.2">iv</text>
<text x="506.4" y="41.7" font-family="'Liberation Serif',serif" font-weight="bold" stroke="#000" stroke-width="0.25" font-size="10" text-anchor="end">63%</text>
<rect x="165.3" y="193.9" width="99.6" height="101.3" fill="none" stroke="#4a4a4a" stroke-width="1.3"/>
<path d="M165.3 295.2h-2.0 M165.3 287.58h-1.2 M165.3 283.12h-1.2 M165.3 279.95h-1.2 M165.3 277.5h-1.2 M165.3 275.49h-1.2 M165.3 273.8h-1.2 M165.3 272.33h-1.2 M165.3 271.03h-1.2 M165.3 269.88h-2.0 M165.3 262.25h-1.2 M165.3 257.79h-1.2 M165.3 254.63h-1.2 M165.3 252.17h-1.2 M165.3 250.17h-1.2 M165.3 248.47h-1.2 M165.3 247h-1.2 M165.3 245.71h-1.2 M165.3 244.55h-2.0 M165.3 236.93h-1.2 M165.3 232.47h-1.2 M165.3 229.3h-1.2 M165.3 226.85h-1.2 M165.3 224.84h-1.2 M165.3 223.15h-1.2 M165.3 221.68h-1.2 M165.3 220.38h-1.2 M165.3 219.22h-2.0 M165.3 211.6h-1.2 M165.3 207.14h-1.2 M165.3 203.98h-1.2 M165.3 201.52h-1.2 M165.3 199.52h-1.2 M165.3 197.82h-1.2 M165.3 196.35h-1.2 M165.3 195.06h-1.2 M165.3 193.9h-2 M165.3 295.2v2.2 M169.28 295.2v1.4 M173.27 295.2v1.4 M177.25 295.2v1.4 M181.24 295.2v1.4 M185.22 295.2v2.2 M189.2 295.2v1.4 M193.19 295.2v1.4 M197.17 295.2v1.4 M201.16 295.2v1.4 M205.14 295.2v2.2 M209.12 295.2v1.4 M213.11 295.2v1.4 M217.09 295.2v1.4 M221.08 295.2v1.4 M225.06 295.2v2.2 M229.04 295.2v1.4 M233.03 295.2v1.4 M237.01 295.2v1.4 M241 295.2v1.4 M244.98 295.2v2.2 M248.96 295.2v1.4 M252.95 295.2v1.4 M256.93 295.2v1.4 M260.92 295.2v1.4 M264.9 295.2v2.2" stroke="#111" stroke-width="1.0" fill="none"/>
<text x="166.7" y="302.8" font-family="'Liberation Sans',sans-serif" font-size="5.6" text-anchor="middle" fill="#111" stroke="#111" stroke-width="0.18">0</text>
<text x="185.82" y="302.8" font-family="'Liberation Sans',sans-serif" font-size="5.6" text-anchor="middle" fill="#111" stroke="#111" stroke-width="0.18">200</text>
<text x="204.94" y="302.8" font-family="'Liberation Sans',sans-serif" font-size="5.6" text-anchor="middle" fill="#111" stroke="#111" stroke-width="0.18">400</text>
<text x="224.06" y="302.8" font-family="'Liberation Sans',sans-serif" font-size="5.6" text-anchor="middle" fill="#111" stroke="#111" stroke-width="0.18">600</text>
<text x="243.18" y="302.8" font-family="'Liberation Sans',sans-serif" font-size="5.6" text-anchor="middle" fill="#111" stroke="#111" stroke-width="0.18">800</text>
<text x="262.3" y="302.8" font-family="'Liberation Sans',sans-serif" font-size="5.6" text-anchor="middle" fill="#111" stroke="#111" stroke-width="0.18">1000</text>
<text transform="translate(161.3,295.6) rotate(-90)" font-family="'Liberation Sans',sans-serif" font-size="5.8" text-anchor="middle" fill="#111" stroke="#111" stroke-width="0.22">10<tspan font-size="4.2" dy="-2.7">0</tspan></text>
<text transform="translate(161.3,270.27) rotate(-90)" font-family="'Liberation Sans',sans-serif" font-size="5.8" text-anchor="middle" fill="#111" stroke="#111" stroke-width="0.22">10<tspan font-size="4.2" dy="-2.7">1</tspan></text>
<text transform="translate(161.3,244.95) rotate(-90)" font-family="'Liberation Sans',sans-serif" font-size="5.8" text-anchor="middle" fill="#111" stroke="#111" stroke-width="0.22">10<tspan font-size="4.2" dy="-2.7">2</tspan></text>
<text transform="translate(161.3,219.62) rotate(-90)" font-family="'Liberation Sans',sans-serif" font-size="5.8" text-anchor="middle" fill="#111" stroke="#111" stroke-width="0.22">10<tspan font-size="4.2" dy="-2.7">3</tspan></text>
<text transform="translate(161.3,194.3) rotate(-90)" font-family="'Liberation Sans',sans-serif" font-size="5.8" text-anchor="middle" fill="#111" stroke="#111" stroke-width="0.22">10<tspan font-size="4.2" dy="-2.7">4</tspan></text>
<g filter="url(#soft)">
<path d="M191 257.5h1M202 270.5h1M185 258.5h1M184 272.5h1M185 261.5h1M190 272.5h1M204 254.5h1M192 270.5h1M187 267.5h1M204 260.5h1M191 272.5h1M196 275.5h1M205 258.5h1M205 261.5h1M189 267.5h1M202 275.5h1M211 270.5h1M191 273.5h1M199 277.5h1M186 266.5h1M208 270.5h1M196 256.5h1M207 257.5h1M220 265.5h1M203 277.5h1M200 259.5h1M198 277.5h1M192 257.5h1M191 270.5h1M189 273.5h1M196 258.5h1M185 263.5h1M209 271.5h1M206 252.5h1M199 274.5h1M205 271.5h1M207 265.5h1M188 266.5h1M195 274.5h1M199 271.5h1M206 260.5h1M197 258.5h1M210 265.5h1M207 270.5h1M191 268.5h1M186 270.5h1M191 271.5h1M186 267.5h1M186 264.5h1M208 263.5h1M198 257.5h1M207 266.5h1M188 267.5h1M208 261.5h1M207 256.5h1M188 268.5h1M198 272.5h1M207 263.5h1M187 265.5h1M199 258.5h1M191 280.5h1M209 276.5h1M188 261.5h1M204 265.5h1M186 265.5h1M194 272.5h1M193 258.5h1M189 259.5h1M208 257.5h1M188 270.5h1M208 264.5h1M194 275.5h1M197 257.5h1M206 257.5h1M211 252.5h1M188 262.5h1M205 267.5h1M200 271.5h1M204 277.5h1M189 258.5h1M204 268.5h1M201 256.5h1M209 265.5h1M206 278.5h1M198 273.5h1M189 260.5h1M187 269.5h1M205 270.5h1M194 273.5h1M193 270.5h1M190 266.5h1M206 255.5h1M193 271.5h1M206 270.5h1M183 272.5h1M185 264.5h1M182 263.5h1M200 272.5h1M205 256.5h1M197 272.5h1M203 269.5h1M201 258.5h1M188 252.5h1M205 250.5h1M200 229.5h1M206 237.5h1M190 260.5h1M202 247.5h1M199 257.5h1M209 253.5h1M211 234.5h1M195 245.5h1M194 253.5h1M199 238.5h1M205 231.5h1M197 242.5h1M202 246.5h1M197 238.5h1M205 246.5h1M206 243.5h1M203 242.5h1M207 237.5h1M195 247.5h1M205 239.5h1M221 224.5h1M210 258.5h1M198 247.5h1M201 243.5h1M204 240.5h1M194 241.5h1M209 250.5h1M212 250.5h1M201 253.5h1M194 255.5h1M197 241.5h1M211 240.5h1M208 237.5h1M198 241.5h1M193 237.5h1M202 238.5h1M204 244.5h1M210 239.5h1M210 253.5h1M193 255.5h1M205 241.5h1M202 245.5h1M202 250.5h1M207 264.5h1M195 244.5h1M193 239.5h1M205 243.5h1M205 247.5h1M198 249.5h1M206 234.5h1M210 256.5h1M207 254.5h1M207 238.5h1M197 250.5h1M209 257.5h1M199 255.5h1M200 253.5h1M200 247.5h1M211 251.5h1M213 258.5h1M212 245.5h1M208 251.5h1M199 251.5h1M198 250.5h1M205 255.5h1M210 242.5h1M193 256.5h1M207 251.5h1M216 245.5h1M201 244.5h1M195 253.5h1M200 246.5h1M200 245.5h1M218 251.5h1M200 251.5h1M208 241.5h1M198 255.5h1M207 253.5h1M204 238.5h1M211 245.5h1M197 251.5h1M200 255.5h1M206 249.5h1M195 248.5h1M203 257.5h1M210 236.5h1M209 259.5h1M203 238.5h1M200 250.5h1M199 252.5h1M200 240.5h1M204 239.5h1M198 243.5h1M196 244.5h1M207 242.5h1M196 252.5h1M199 246.5h1M191 243.5h1M215 254.5h1M195 251.5h1M195 241.5h1M202 252.5h1M212 253.5h1M201 246.5h1M197 254.5h1M204 237.5h1M197 239.5h1M202 255.5h1M193 238.5h1M193 233.5h1M201 237.5h1M190 240.5h1M199 243.5h1M202 241.5h1M198 242.5h1M206 246.5h1M203 255.5h1M204 251.5h1M186 252.5h1M206 242.5h1M199 248.5h1M198 237.5h1M211 257.5h1M208 252.5h1M201 226.5h1M193 246.5h1M198 253.5h1M207 246.5h1M201 239.5h1M195 256.5h1M204 231.5h1M201 251.5h1M196 242.5h1M204 274.5h1M196 279.5h1M198 288.5h1M198 280.5h1M201 287.5h1M197 277.5h1M199 279.5h1M195 285.5h1M197 285.5h1M193 273.5h1M200 279.5h1M194 274.5h1M191 290.5h1M193 287.5h1M193 292.5h1M206 282.5h1M195 284.5h1M200 278.5h1M194 287.5h1M199 283.5h1M201 282.5h1M202 291.5h1M196 280.5h1M195 279.5h1M205 279.5h1M194 279.5h1M193 282.5h1M195 283.5h1M198 289.5h1M195 293.5h1M202 281.5h1M203 282.5h1M194 280.5h1M199 273.5h1M193 283.5h1M194 282.5h1M208 282.5h1M194 281.5h1M198 281.5h1M200 281.5h1M189 282.5h1M195 282.5h1M201 278.5h1M202 278.5h1M200 285.5h1M201 279.5h1M201 273.5h1M196 282.5h1M201 284.5h1M191 277.5h1M203 287.5h1M198 276.5h1M192 277.5h1M202 286.5h1M197 286.5h1M194 277.5h1M202 284.5h1M192 287.5h1M188 280.5h1M204 288.5h1M194 291.5h1M190 276.5h1M196 286.5h1M208 240.5h1M204 225.5h1M207 222.5h1M202 235.5h1M205 233.5h1M208 231.5h1M210 233.5h1M207 236.5h1M213 232.5h1M213 245.5h1M211 228.5h1M205 234.5h1M207 231.5h1M205 244.5h1M206 225.5h1M201 220.5h1M200 233.5h1M204 233.5h1M206 230.5h1M199 237.5h1M203 234.5h1M208 229.5h1M197 220.5h1M207 235.5h1M204 243.5h1M215 241.5h1M209 224.5h1M207 224.5h1M203 256.5h1M203 243.5h1M199 254.5h1M203 216.5h1" stroke="#384088" stroke-opacity="0.8" stroke-width="1" fill="none"/>
<path d="M207 261.5h1M197 274.5h1M201 274.5h1M189 263.5h1M206 269.5h1M191 266.5h1M191 269.5h1M199 250.5h1M191 261.5h1M206 271.5h1M203 273.5h1M201 271.5h1M204 266.5h1M196 255.5h1M193 281.5h1M205 272.5h1M190 263.5h1M192 260.5h1M198 258.5h1M206 266.5h1M194 271.5h1M205 257.5h1M193 257.5h1M196 277.5h1M192 258.5h1M209 256.5h1M199 259.5h1M201 259.5h1M191 264.5h1M192 269.5h1M204 269.5h1M198 271.5h1M202 259.5h1M198 254.5h1M204 261.5h1M192 255.5h1M204 270.5h1M191 267.5h1M196 276.5h1M197 253.5h1M203 258.5h1M190 265.5h1M196 272.5h1M203 270.5h1M204 259.5h1M205 264.5h1M202 272.5h1M201 254.5h1M205 260.5h1M197 249.5h1M199 272.5h1M201 275.5h1M202 256.5h1M198 251.5h1M203 246.5h1M201 252.5h1M197 247.5h1M203 248.5h1M206 247.5h1M205 252.5h1M199 242.5h1M215 247.5h1M200 249.5h1M208 249.5h1M206 241.5h1M197 248.5h1M203 249.5h1M200 248.5h1M195 246.5h1M203 241.5h1M204 252.5h1M207 255.5h1M204 241.5h1M201 249.5h1M199 245.5h1M208 236.5h1M194 247.5h1M210 238.5h1M200 243.5h1M199 239.5h1M203 252.5h1M205 236.5h1M205 248.5h1M206 248.5h1M206 244.5h1M203 253.5h1M210 243.5h1M203 245.5h1M213 241.5h1M202 279.5h1M200 280.5h1M197 283.5h1M196 285.5h1M200 276.5h1M197 280.5h1M193 276.5h1M201 289.5h1M199 281.5h1M198 285.5h1M203 280.5h1M198 278.5h1M198 282.5h1M193 277.5h1M198 290.5h1M200 292.5h1" stroke="#384088" stroke-opacity="1.0" stroke-width="1" fill="none"/>
<path d="M199 266.5h1M201 265.5h1M200 261.5h1M196 269.5h1M192 268.5h1M200 270.5h1M202 260.5h1M204 262.5h1M193 262.5h1M202 263.5h1M192 266.5h1M198 267.5h1M198 261.5h1M192 263.5h1M201 267.5h1M193 265.5h1M197 260.5h1M193 268.5h1M192 262.5h1M201 268.5h1M192 267.5h1M200 260.5h1M202 269.5h1M195 260.5h1M198 260.5h1M193 264.5h1M196 271.5h1M205 263.5h1M195 263.5h1M192 259.5h1M194 262.5h1M196 259.5h1M199 249.5h1M203 260.5h1" stroke="#0808cc" stroke-opacity="0.8" stroke-width="1" fill="none"/>
<path d="M198 268.5h1M201 262.5h1M194 259.5h1M196 261.5h1M193 263.5h1M203 261.5h1M194 266.5h1M195 270.5h1M201 266.5h1M201 269.5h1M194 264.5h1M199 263.5h1M197 261.5h1M200 264.5h1M198 269.5h1M200 262.5h1M198 262.5h1M195 261.5h1M194 260.5h1M199 268.5h1M195 268.5h1M203 265.5h1M197 262.5h1M196 265.5h1M195 269.5h1M194 269.5h1M198 266.5h1M195 266.5h1M197 263.5h1M196 270.5h1M192 265.5h1M197 266.5h1M199 265.5h1M200 266.5h1M200 267.5h1M195 264.5h1M197 270.5h1M202 267.5h1M194 263.5h1M197 265.5h1M203 266.5h1M196 266.5h1M200 268.5h1M197 264.5h1M200 263.5h1M199 264.5h1M195 265.5h1M199 260.5h1M197 271.5h1M193 267.5h1M199 262.5h1M203 262.5h1M196 260.5h1M193 259.5h1M195 262.5h1M193 266.5h1M200 265.5h1M203 263.5h1M198 265.5h1M203 267.5h1M194 265.5h1M191 265.5h1M196 264.5h1M202 262.5h1M196 267.5h1M194 267.5h1M201 264.5h1M193 269.5h1M195 267.5h1M199 261.5h1M205 262.5h1M196 262.5h1M199 269.5h1M198 263.5h1M192 261.5h1M201 260.5h1M194 261.5h1M194 268.5h1M196 263.5h1M201 263.5h1M202 268.5h1M203 264.5h1M196 268.5h1M193 260.5h1M198 264.5h1M200 269.5h1M197 268.5h1M202 264.5h1M199 267.5h1M202 265.5h1M204 264.5h1" stroke="#0808cc" stroke-opacity="1.0" stroke-width="1" fill="none"/>
</g>
<path d="M165.3 264.3H264.9" stroke="#333" stroke-width="1.25"/>
<text x="217.9" y="188.2" font-family="'Liberation Serif',serif" font-weight="bold" stroke="#000" stroke-width="0.25" font-size="8.6" text-anchor="middle">Gated CD19+</text>
<text x="171.2" y="207.6" font-family="'Liberation Sans',sans-serif" font-weight="bold" stroke="#000" stroke-width="0.3" font-size="14.2">ii</text>
<text x="255.4" y="208.8" font-family="'Liberation Serif',serif" font-weight="bold" stroke="#000" stroke-width="0.25" font-size="10" text-anchor="end">44%</text>
<rect x="290.6" y="191.9" width="99.3" height="100.8" fill="none" stroke="#4a4a4a" stroke-width="1.3"/>
<path d="M290.6 292.7h-2.0 M290.6 285.11h-1.2 M290.6 280.68h-1.2 M290.6 277.53h-1.2 M290.6 275.09h-1.2 M290.6 273.09h-1.2 M290.6 271.4h-1.2 M290.6 269.94h-1.2 M290.6 268.65h-1.2 M290.6 267.5h-2.0 M290.6 259.91h-1.2 M290.6 255.48h-1.2 M290.6 252.33h-1.2 M290.6 249.89h-1.2 M290.6 247.89h-1.2 M290.6 246.2h-1.2 M290.6 244.74h-1.2 M290.6 243.45h-1.2 M290.6 242.3h-2.0 M290.6 234.71h-1.2 M290.6 230.28h-1.2 M290.6 227.13h-1.2 M290.6 224.69h-1.2 M290.6 222.69h-1.2 M290.6 221h-1.2 M290.6 219.54h-1.2 M290.6 218.25h-1.2 M290.6 217.1h-2.0 M290.6 209.51h-1.2 M290.6 205.08h-1.2 M290.6 201.93h-1.2 M290.6 199.49h-1.2 M290.6 197.49h-1.2 M290.6 195.8h-1.2 M290.6 194.34h-1.2 M290.6 193.05h-1.2 M290.6 191.9h-2 M290.6 292.7v2.2 M294.57 292.7v1.4 M298.54 292.7v1.4 M302.52 292.7v1.4 M306.49 292.7v1.4 M310.46 292.7v2.2 M314.43 292.7v1.4 M318.4 292.7v1.4 M322.38 292.7v1.4 M326.35 292.7v1.4 M330.32 292.7v2.2 M334.29 292.7v1.4 M338.26 292.7v1.4 M342.24 292.7v1.4 M346.21 292.7v1.4 M350.18 292.7v2.2 M354.15 292.7v1.4 M358.12 292.7v1.4 M362.1 292.7v1.4 M366.07 292.7v1.4 M370.04 292.7v2.2 M374.01 292.7v1.4 M377.98 292.7v1.4 M381.96 292.7v1.4 M385.93 292.7v1.4 M389.9 292.7v2.2" stroke="#111" stroke-width="1.0" fill="none"/>
<text x="292" y="300.3" font-family="'Liberation Sans',sans-serif" font-size="5.6" text-anchor="middle" fill="#111" stroke="#111" stroke-width="0.18">0</text>
<text x="311.06" y="300.3" font-family="'Liberation Sans',sans-serif" font-size="5.6" text-anchor="middle" fill="#111" stroke="#111" stroke-width="0.18">200</text>
<text x="330.12" y="300.3" font-family="'Liberation Sans',sans-serif" font-size="5.6" text-anchor="middle" fill="#111" stroke="#111" stroke-width="0.18">400</text>
<text x="349.18" y="300.3" font-family="'Liberation Sans',sans-serif" font-size="5.6" text-anchor="middle" fill="#111" stroke="#111" stroke-width="0.18">600</text>
<text x="368.24" y="300.3" font-family="'Liberation Sans',sans-serif" font-size="5.6" text-anchor="middle" fill="#111" stroke="#111" stroke-width="0.18">800</text>
<text x="387.3" y="300.3" font-family="'Liberation Sans',sans-serif" font-size="5.6" text-anchor="middle" fill="#111" stroke="#111" stroke-width="0.18">1000</text>
<text transform="translate(286.6,293.1) rotate(-90)" font-family="'Liberation Sans',sans-serif" font-size="5.8" text-anchor="middle" fill="#111" stroke="#111" stroke-width="0.22">10<tspan font-size="4.2" dy="-2.7">0</tspan></text>
<text transform="translate(286.6,267.9) rotate(-90)" font-family="'Liberation Sans',sans-serif" font-size="5.8" text-anchor="middle" fill="#111" stroke="#111" stroke-width="0.22">10<tspan font-size="4.2" dy="-2.7">1</tspan></text>
<text transform="translate(286.6,242.7) rotate(-90)" font-family="'Liberation Sans',sans-serif" font-size="5.8" text-anchor="middle" fill="#111" stroke="#111" stroke-width="0.22">10<tspan font-size="4.2" dy="-2.7">2</tspan></text>
<text transform="translate(286.6,217.5) rotate(-90)" font-family="'Liberation Sans',sans-serif" font-size="5.8" text-anchor="middle" fill="#111" stroke="#111" stroke-width="0.22">10<tspan font-size="4.2" dy="-2.7">3</tspan></text>
<text transform="translate(286.6,192.3) rotate(-90)" font-family="'Liberation Sans',sans-serif" font-size="5.8" text-anchor="middle" fill="#111" stroke="#111" stroke-width="0.22">10<tspan font-size="4.2" dy="-2.7">4</tspan></text>
<g filter="url(#soft)">
<path d="M314 265.5h1M325 274.5h1M319 261.5h1M327 268.5h1M329 270.5h1M319 272.5h1M330 274.5h1M323 270.5h1M329 266.5h1M314 271.5h1M339 276.5h1M331 272.5h1M326 262.5h1M323 264.5h1M319 263.5h1M327 262.5h1M328 262.5h1M313 264.5h1M319 259.5h1M312 265.5h1M318 252.5h1M317 261.5h1M313 257.5h1M311 265.5h1M327 265.5h1M315 253.5h1M321 259.5h1M332 272.5h1M330 269.5h1M311 270.5h1M311 259.5h1M333 274.5h1M334 264.5h1M331 265.5h1M334 270.5h1M320 263.5h1M313 271.5h1M332 262.5h1M327 259.5h1M325 265.5h1M328 268.5h1M336 272.5h1M317 264.5h1M314 266.5h1M327 261.5h1M315 258.5h1M323 273.5h1M313 267.5h1M318 269.5h1M314 263.5h1M335 266.5h1M317 271.5h1M333 258.5h1M330 272.5h1M320 255.5h1M317 266.5h1M311 262.5h1M315 261.5h1M313 277.5h1M334 267.5h1M336 263.5h1M311 261.5h1M325 264.5h1M314 259.5h1M315 269.5h1M315 265.5h1M311 269.5h1M326 267.5h1M326 264.5h1M321 255.5h1M317 252.5h1M315 263.5h1M315 274.5h1M328 252.5h1M327 260.5h1M332 273.5h1M315 264.5h1M316 269.5h1M324 261.5h1M324 258.5h1M324 264.5h1M320 258.5h1M318 258.5h1M322 261.5h1M322 260.5h1M324 253.5h1M320 264.5h1M318 265.5h1M314 270.5h1M317 267.5h1M316 258.5h1M326 256.5h1M325 255.5h1M333 266.5h1M322 263.5h1M310 257.5h1M329 277.5h1M325 258.5h1M324 265.5h1M332 265.5h1M333 270.5h1M319 274.5h1M320 257.5h1M315 255.5h1M333 264.5h1M330 268.5h1M314 256.5h1M316 263.5h1M326 255.5h1M321 260.5h1M316 260.5h1M322 254.5h1M325 263.5h1M338 268.5h1M317 270.5h1M331 269.5h1M332 263.5h1M320 261.5h1M310 275.5h1M317 262.5h1M313 266.5h1M334 237.5h1M328 240.5h1M338 240.5h1M328 255.5h1M340 240.5h1M339 245.5h1M328 247.5h1M336 240.5h1M336 256.5h1M329 258.5h1M329 248.5h1M343 251.5h1M338 251.5h1M336 239.5h1M336 238.5h1M326 246.5h1M326 250.5h1M324 233.5h1M342 238.5h1M323 250.5h1M332 250.5h1M320 253.5h1M319 242.5h1M335 249.5h1M326 237.5h1M328 246.5h1M334 255.5h1M324 254.5h1M328 250.5h1M336 250.5h1M316 243.5h1M332 254.5h1M335 241.5h1M334 247.5h1M335 246.5h1M318 246.5h1M333 252.5h1M331 250.5h1M327 252.5h1M323 245.5h1M339 243.5h1M325 252.5h1M327 246.5h1M337 251.5h1M325 248.5h1M341 250.5h1M329 240.5h1M335 247.5h1M332 245.5h1M320 236.5h1M335 248.5h1M327 244.5h1M325 256.5h1M320 249.5h1M328 254.5h1M338 250.5h1M331 246.5h1M328 245.5h1M340 251.5h1M327 258.5h1M333 250.5h1M320 242.5h1M328 242.5h1M336 252.5h1M326 245.5h1M327 256.5h1M319 245.5h1M339 253.5h1M327 247.5h1M339 249.5h1M333 238.5h1M331 240.5h1M326 239.5h1M339 242.5h1M327 241.5h1M329 250.5h1M332 244.5h1M334 252.5h1M323 244.5h1M328 261.5h1M344 256.5h1M326 243.5h1M335 242.5h1M325 245.5h1M335 234.5h1M329 239.5h1M321 242.5h1M320 244.5h1M330 255.5h1M321 247.5h1M330 250.5h1M328 244.5h1M329 253.5h1M335 254.5h1M341 245.5h1M331 245.5h1M324 242.5h1M323 254.5h1M319 248.5h1M329 244.5h1M330 262.5h1M330 256.5h1M330 240.5h1M321 241.5h1M331 261.5h1M326 252.5h1M324 245.5h1M338 239.5h1M330 233.5h1M334 244.5h1M326 242.5h1M331 256.5h1M330 251.5h1M331 253.5h1M332 241.5h1M329 242.5h1M335 258.5h1M327 230.5h1M327 248.5h1M340 238.5h1M321 254.5h1M323 242.5h1M324 247.5h1M312 257.5h1M337 246.5h1M333 247.5h1M334 256.5h1M328 236.5h1M322 244.5h1M319 254.5h1M335 243.5h1M329 246.5h1M336 241.5h1M327 277.5h1M315 284.5h1M325 286.5h1M316 274.5h1M314 272.5h1M326 283.5h1M323 275.5h1M318 280.5h1M323 276.5h1M315 279.5h1M332 279.5h1M321 275.5h1M326 281.5h1M318 277.5h1M324 280.5h1M320 276.5h1M314 277.5h1M317 276.5h1M316 282.5h1M325 276.5h1M319 277.5h1M323 283.5h1M329 275.5h1M327 275.5h1M313 272.5h1M321 280.5h1M318 275.5h1M320 280.5h1M322 275.5h1M322 282.5h1M320 277.5h1M322 277.5h1M325 284.5h1M319 280.5h1M319 276.5h1M323 281.5h1M317 284.5h1M324 277.5h1M331 282.5h1M325 275.5h1M321 279.5h1M331 235.5h1M325 236.5h1M335 236.5h1M330 228.5h1M337 230.5h1M333 222.5h1M334 232.5h1M343 230.5h1M339 221.5h1M331 234.5h1M340 233.5h1M334 223.5h1M330 220.5h1M336 229.5h1M336 232.5h1M325 257.5h1M339 260.5h1M348 262.5h1M327 254.5h1M324 275.5h1M322 256.5h1M346 250.5h1M326 232.5h1" stroke="#384088" stroke-opacity="0.8" stroke-width="1" fill="none"/>
<path d="M328 257.5h1M330 265.5h1M319 273.5h1M323 279.5h1M325 261.5h1M329 267.5h1M324 270.5h1M328 272.5h1M326 272.5h1M324 252.5h1M329 271.5h1M325 260.5h1M313 261.5h1M326 275.5h1M326 274.5h1M331 266.5h1M328 271.5h1M328 267.5h1M332 267.5h1M316 266.5h1M319 264.5h1M318 261.5h1M320 268.5h1M323 257.5h1M322 272.5h1M331 267.5h1M315 266.5h1M316 271.5h1M318 264.5h1M323 262.5h1M320 265.5h1M326 271.5h1M319 255.5h1M325 277.5h1M318 260.5h1M321 271.5h1M326 277.5h1M326 265.5h1M319 270.5h1M326 261.5h1M324 271.5h1M331 257.5h1M317 269.5h1M323 260.5h1M321 258.5h1M321 263.5h1M319 268.5h1M332 257.5h1M329 257.5h1M331 247.5h1M319 243.5h1M333 251.5h1M332 247.5h1M330 249.5h1M331 248.5h1M337 245.5h1M327 249.5h1M327 240.5h1M324 246.5h1M331 251.5h1M326 253.5h1M330 248.5h1M327 253.5h1M330 247.5h1M326 244.5h1M331 244.5h1M323 251.5h1M336 248.5h1M330 246.5h1M329 241.5h1M330 253.5h1M332 256.5h1M326 240.5h1M329 254.5h1M328 241.5h1M332 237.5h1M332 249.5h1M325 251.5h1M326 248.5h1M321 245.5h1M328 259.5h1M321 246.5h1M325 278.5h1M317 277.5h1M323 277.5h1M325 280.5h1" stroke="#384088" stroke-opacity="1.0" stroke-width="1" fill="none"/>
<path d="M328 270.5h1M322 269.5h1M327 270.5h1M322 265.5h1M325 269.5h1M328 269.5h1M323 266.5h1M325 268.5h1M324 269.5h1M324 266.5h1M326 268.5h1M325 270.5h1M323 269.5h1M321 265.5h1M322 268.5h1M325 267.5h1" stroke="#0808cc" stroke-opacity="0.8" stroke-width="1" fill="none"/>
<path d="M322 266.5h1M322 267.5h1M323 267.5h1M327 269.5h1M326 270.5h1M320 266.5h1M323 265.5h1M324 268.5h1M323 268.5h1M321 266.5h1M324 267.5h1M320 267.5h1M326 269.5h1M321 269.5h1M321 268.5h1M321 267.5h1" stroke="#0808cc" stroke-opacity="1.0" stroke-width="1" fill="none"/>
</g>
<path d="M290.6 261.7H389.9" stroke="#333" stroke-width="1.25"/>
<text x="341" y="186.2" font-family="'Liberation Serif',serif" font-weight="bold" stroke="#000" stroke-width="0.25" font-size="8.6" text-anchor="middle">Gated CD11c+</text>
<text x="296.9" y="207.6" font-family="'Liberation Sans',sans-serif" font-weight="bold" stroke="#000" stroke-width="0.3" font-size="14.2">iii</text>
<text x="382.9" y="206.4" font-family="'Liberation Serif',serif" font-weight="bold" stroke="#000" stroke-width="0.25" font-size="10" text-anchor="end">50%</text>
<rect x="417" y="190.8" width="98.7" height="100.9" fill="none" stroke="#4a4a4a" stroke-width="1.3"/>
<path d="M417 291.7h-2.0 M417 284.11h-1.2 M417 279.66h-1.2 M417 276.51h-1.2 M417 274.07h-1.2 M417 272.07h-1.2 M417 270.38h-1.2 M417 268.92h-1.2 M417 267.63h-1.2 M417 266.48h-2.0 M417 258.88h-1.2 M417 254.44h-1.2 M417 251.29h-1.2 M417 248.84h-1.2 M417 246.85h-1.2 M417 245.16h-1.2 M417 243.69h-1.2 M417 242.4h-1.2 M417 241.25h-2.0 M417 233.66h-1.2 M417 229.21h-1.2 M417 226.06h-1.2 M417 223.62h-1.2 M417 221.62h-1.2 M417 219.93h-1.2 M417 218.47h-1.2 M417 217.18h-1.2 M417 216.03h-2.0 M417 208.43h-1.2 M417 203.99h-1.2 M417 200.84h-1.2 M417 198.39h-1.2 M417 196.4h-1.2 M417 194.71h-1.2 M417 193.24h-1.2 M417 191.95h-1.2 M417 190.8h-2 M417 291.7v2.2 M420.95 291.7v1.4 M424.9 291.7v1.4 M428.84 291.7v1.4 M432.79 291.7v1.4 M436.74 291.7v2.2 M440.69 291.7v1.4 M444.64 291.7v1.4 M448.58 291.7v1.4 M452.53 291.7v1.4 M456.48 291.7v2.2 M460.43 291.7v1.4 M464.38 291.7v1.4 M468.32 291.7v1.4 M472.27 291.7v1.4 M476.22 291.7v2.2 M480.17 291.7v1.4 M484.12 291.7v1.4 M488.06 291.7v1.4 M492.01 291.7v1.4 M495.96 291.7v2.2 M499.91 291.7v1.4 M503.86 291.7v1.4 M507.8 291.7v1.4 M511.75 291.7v1.4 M515.7 291.7v2.2" stroke="#111" stroke-width="1.0" fill="none"/>
<text x="418.4" y="299.3" font-family="'Liberation Sans',sans-serif" font-size="5.6" text-anchor="middle" fill="#111" stroke="#111" stroke-width="0.18">0</text>
<text x="437.34" y="299.3" font-family="'Liberation Sans',sans-serif" font-size="5.6" text-anchor="middle" fill="#111" stroke="#111" stroke-width="0.18">200</text>
<text x="456.28" y="299.3" font-family="'Liberation Sans',sans-serif" font-size="5.6" text-anchor="middle" fill="#111" stroke="#111" stroke-width="0.18">400</text>
<text x="475.22" y="299.3" font-family="'Liberation Sans',sans-serif" font-size="5.6" text-anchor="middle" fill="#111" stroke="#111" stroke-width="0.18">600</text>
<text x="494.16" y="299.3" font-family="'Liberation Sans',sans-serif" font-size="5.6" text-anchor="middle" fill="#111" stroke="#111" stroke-width="0.18">800</text>
<text x="513.1" y="299.3" font-family="'Liberation Sans',sans-serif" font-size="5.6" text-anchor="middle" fill="#111" stroke="#111" stroke-width="0.18">1000</text>
<text transform="translate(413,292.1) rotate(-90)" font-family="'Liberation Sans',sans-serif" font-size="5.8" text-anchor="middle" fill="#111" stroke="#111" stroke-width="0.22">10<tspan font-size="4.2" dy="-2.7">0</tspan></text>
<text transform="translate(413,266.88) rotate(-90)" font-family="'Liberation Sans',sans-serif" font-size="5.8" text-anchor="middle" fill="#111" stroke="#111" stroke-width="0.22">10<tspan font-size="4.2" dy="-2.7">1</tspan></text>
<text transform="translate(413,241.65) rotate(-90)" font-family="'Liberation Sans',sans-serif" font-size="5.8" text-anchor="middle" fill="#111" stroke="#111" stroke-width="0.22">10<tspan font-size="4.2" dy="-2.7">2</tspan></text>
<text transform="translate(413,216.43) rotate(-90)" font-family="'Liberation Sans',sans-serif" font-size="5.8" text-anchor="middle" fill="#111" stroke="#111" stroke-width="0.22">10<tspan font-size="4.2" dy="-2.7">3</tspan></text>
<text transform="translate(413,191.2) rotate(-90)" font-family="'Liberation Sans',sans-serif" font-size="5.8" text-anchor="middle" fill="#111" stroke="#111" stroke-width="0.22">10<tspan font-size="4.2" dy="-2.7">4</tspan></text>
<g filter="url(#soft)">
<path d="M431 252.5h1M448 268.5h1M438 265.5h1M452 252.5h1M449 271.5h1M438 260.5h1M459 268.5h1M437 267.5h1M454 254.5h1M444 254.5h1M442 270.5h1M454 269.5h1M445 252.5h1M442 271.5h1M447 270.5h1M436 268.5h1M453 266.5h1M443 252.5h1M445 251.5h1M437 259.5h1M459 252.5h1M451 268.5h1M438 246.5h1M455 265.5h1M440 250.5h1M455 253.5h1M445 267.5h1M455 263.5h1M437 255.5h1M461 263.5h1M436 247.5h1M440 249.5h1M449 277.5h1M441 249.5h1M436 254.5h1M440 273.5h1M460 255.5h1M456 263.5h1M432 262.5h1M461 262.5h1M438 263.5h1M440 253.5h1M455 254.5h1M437 260.5h1M438 253.5h1M450 269.5h1M456 255.5h1M447 271.5h1M432 253.5h1M462 259.5h1M458 264.5h1M450 270.5h1M455 261.5h1M430 253.5h1M441 256.5h1M457 258.5h1M438 256.5h1M433 261.5h1M440 265.5h1M439 260.5h1M461 250.5h1M435 252.5h1M436 260.5h1M456 259.5h1M456 271.5h1M457 273.5h1M443 266.5h1M448 267.5h1M442 248.5h1M458 263.5h1M433 265.5h1M438 257.5h1M453 253.5h1M457 270.5h1M435 253.5h1M449 247.5h1M437 265.5h1M440 267.5h1M440 254.5h1M438 259.5h1M435 256.5h1M442 256.5h1M447 268.5h1M432 266.5h1M425 260.5h1M443 248.5h1M446 252.5h1M434 262.5h1M436 256.5h1M439 257.5h1M455 267.5h1M436 253.5h1M441 268.5h1M464 266.5h1M448 269.5h1M444 253.5h1M457 257.5h1M458 261.5h1M460 271.5h1M454 265.5h1M447 248.5h1M448 244.5h1M428 261.5h1M459 265.5h1M444 249.5h1M441 252.5h1M450 251.5h1M456 269.5h1M454 268.5h1M445 250.5h1M440 266.5h1M437 263.5h1M457 255.5h1M434 266.5h1M442 247.5h1M431 256.5h1M436 258.5h1M458 248.5h1M446 270.5h1M428 263.5h1M458 259.5h1M454 264.5h1M457 253.5h1M442 251.5h1M435 262.5h1M456 265.5h1M454 251.5h1M453 265.5h1M437 245.5h1M442 252.5h1M439 264.5h1M441 253.5h1M439 248.5h1M472 250.5h1M451 247.5h1M428 242.5h1M449 253.5h1M460 232.5h1M455 250.5h1M461 236.5h1M471 226.5h1M450 249.5h1M471 238.5h1M462 236.5h1M450 243.5h1M466 238.5h1M445 239.5h1M466 247.5h1M469 248.5h1M460 238.5h1M451 236.5h1M464 231.5h1M456 235.5h1M471 243.5h1M460 244.5h1M444 230.5h1M460 252.5h1M455 244.5h1M447 230.5h1M439 228.5h1M461 233.5h1M449 233.5h1M449 227.5h1M450 224.5h1M457 247.5h1M468 244.5h1M443 249.5h1M461 238.5h1M461 243.5h1M464 234.5h1M451 248.5h1M453 234.5h1M451 234.5h1M448 237.5h1M472 248.5h1M462 231.5h1M453 241.5h1M457 252.5h1M435 230.5h1M466 254.5h1M463 238.5h1M456 246.5h1M445 248.5h1M446 230.5h1M457 254.5h1M449 226.5h1M455 237.5h1M461 239.5h1M462 227.5h1M454 248.5h1M450 240.5h1M443 238.5h1M463 232.5h1M449 229.5h1M469 229.5h1M454 238.5h1M437 234.5h1M451 249.5h1M456 222.5h1M460 239.5h1M448 240.5h1M458 252.5h1M464 233.5h1M450 227.5h1M454 235.5h1M470 239.5h1M463 256.5h1M469 239.5h1M447 239.5h1M455 228.5h1M460 231.5h1M465 237.5h1M458 253.5h1M459 245.5h1M458 234.5h1M452 242.5h1M463 246.5h1M465 241.5h1M460 230.5h1M470 226.5h1M446 238.5h1M465 249.5h1M456 243.5h1M448 234.5h1M461 246.5h1M459 239.5h1M465 232.5h1M431 245.5h1M453 233.5h1M448 250.5h1M461 252.5h1M455 235.5h1M464 235.5h1M450 235.5h1M472 226.5h1M457 237.5h1M454 247.5h1M450 239.5h1M437 238.5h1M471 256.5h1M452 244.5h1M450 248.5h1M465 233.5h1M464 245.5h1M447 244.5h1M450 246.5h1M457 229.5h1M456 232.5h1M436 239.5h1M466 236.5h1M453 247.5h1M460 251.5h1M460 227.5h1M462 235.5h1M458 230.5h1M455 241.5h1M466 243.5h1M446 243.5h1M447 249.5h1M459 228.5h1M452 232.5h1M451 238.5h1M463 233.5h1M434 238.5h1M472 246.5h1M453 245.5h1M445 242.5h1M451 245.5h1M466 220.5h1M462 255.5h1M471 236.5h1M445 241.5h1M470 252.5h1M455 246.5h1M466 249.5h1M443 229.5h1M458 235.5h1M465 247.5h1M468 238.5h1M458 241.5h1M461 254.5h1M452 243.5h1M455 232.5h1M439 249.5h1M468 246.5h1M467 241.5h1M458 238.5h1M474 239.5h1M461 242.5h1M458 246.5h1M465 238.5h1M461 226.5h1M446 225.5h1M449 230.5h1M448 228.5h1M436 235.5h1M446 249.5h1M462 257.5h1M439 240.5h1M441 240.5h1M449 250.5h1M456 244.5h1M451 250.5h1M460 242.5h1M467 252.5h1M452 240.5h1M453 244.5h1M471 234.5h1M451 233.5h1M464 240.5h1M450 238.5h1M458 232.5h1M463 234.5h1M450 236.5h1M460 226.5h1M472 237.5h1M440 240.5h1M446 232.5h1M456 247.5h1M463 240.5h1M442 234.5h1M470 234.5h1M461 240.5h1M461 245.5h1M451 241.5h1M456 250.5h1M445 244.5h1M460 236.5h1M457 246.5h1M467 239.5h1M453 230.5h1M472 231.5h1M469 240.5h1M466 248.5h1M462 248.5h1M463 227.5h1M457 227.5h1M440 239.5h1M466 239.5h1M460 235.5h1M466 235.5h1M465 240.5h1M455 234.5h1M443 246.5h1M445 235.5h1M444 248.5h1M473 230.5h1M461 249.5h1M456 237.5h1M459 237.5h1M466 233.5h1M464 237.5h1M444 237.5h1M461 247.5h1M436 234.5h1M468 226.5h1M438 232.5h1M471 251.5h1M444 242.5h1M459 230.5h1M462 228.5h1M453 251.5h1M457 228.5h1M443 236.5h1M465 248.5h1M455 233.5h1M444 224.5h1M468 235.5h1M445 243.5h1M434 220.5h1M469 249.5h1M470 245.5h1M464 241.5h1M438 244.5h1M443 234.5h1M449 245.5h1M458 237.5h1M457 249.5h1M452 249.5h1M452 241.5h1M452 234.5h1M458 229.5h1M462 247.5h1M440 234.5h1M458 239.5h1M456 248.5h1M467 245.5h1M449 244.5h1M470 248.5h1M459 227.5h1M454 227.5h1M455 216.5h1M471 216.5h1M455 223.5h1M445 217.5h1M455 217.5h1M459 215.5h1M457 226.5h1M463 221.5h1M458 215.5h1M468 219.5h1M459 217.5h1M456 223.5h1M458 227.5h1M445 231.5h1M462 218.5h1M463 218.5h1M449 218.5h1M445 221.5h1M456 217.5h1M461 230.5h1M468 221.5h1M455 220.5h1M455 206.5h1M467 216.5h1M458 224.5h1M456 219.5h1M465 224.5h1M468 231.5h1M472 223.5h1M469 225.5h1M465 212.5h1M457 217.5h1M463 215.5h1M467 223.5h1M465 214.5h1M455 212.5h1M458 220.5h1M466 224.5h1M462 229.5h1M458 228.5h1M464 222.5h1M457 211.5h1M466 227.5h1M455 221.5h1M461 216.5h1M463 220.5h1M447 226.5h1M463 226.5h1M453 218.5h1M471 223.5h1M458 216.5h1M455 208.5h1M459 223.5h1M465 218.5h1M460 218.5h1M456 215.5h1M461 231.5h1M462 221.5h1M461 227.5h1M454 221.5h1M461 211.5h1M448 219.5h1M462 223.5h1M457 218.5h1M459 221.5h1M454 218.5h1M464 216.5h1M460 223.5h1M453 226.5h1M458 222.5h1M461 214.5h1M460 225.5h1M441 288.5h1M447 281.5h1M439 270.5h1M443 272.5h1M440 272.5h1M443 279.5h1M443 276.5h1M450 289.5h1M452 271.5h1M444 279.5h1M440 285.5h1M443 281.5h1M447 279.5h1M446 275.5h1M444 269.5h1M443 270.5h1M441 278.5h1M440 283.5h1M456 277.5h1M451 276.5h1M445 275.5h1M440 281.5h1M448 282.5h1M441 271.5h1M449 276.5h1M448 279.5h1M440 282.5h1M437 272.5h1M451 273.5h1M453 287.5h1M447 284.5h1M445 277.5h1M445 272.5h1M445 287.5h1M452 274.5h1M439 271.5h1M444 280.5h1M448 270.5h1M439 277.5h1M444 282.5h1M447 277.5h1M440 274.5h1M442 275.5h1M451 275.5h1M446 280.5h1M444 271.5h1M452 277.5h1M447 274.5h1M451 278.5h1M470 222.5h1M472 277.5h1M464 224.5h1M451 222.5h1M451 230.5h1M455 243.5h1" stroke="#6cc8a0" stroke-opacity="0.8" stroke-width="1" fill="none"/>
<path d="M452 254.5h1M447 252.5h1M449 267.5h1M444 245.5h1M444 266.5h1M453 249.5h1M434 254.5h1M457 264.5h1M451 253.5h1M453 269.5h1M445 269.5h1M446 253.5h1M436 267.5h1M455 251.5h1M443 268.5h1M440 268.5h1M442 254.5h1M449 251.5h1M447 253.5h1M439 254.5h1M450 271.5h1M453 254.5h1M434 264.5h1M447 273.5h1M433 253.5h1M444 267.5h1M453 264.5h1M440 256.5h1M444 251.5h1M437 264.5h1M448 248.5h1M440 269.5h1M455 262.5h1M446 269.5h1M452 265.5h1M441 254.5h1M446 268.5h1M450 253.5h1M447 250.5h1M445 271.5h1M441 267.5h1M464 250.5h1M451 251.5h1M450 250.5h1M445 245.5h1M459 238.5h1M450 237.5h1M461 234.5h1M465 244.5h1M448 239.5h1M462 245.5h1M459 241.5h1M467 235.5h1M457 236.5h1M458 249.5h1M456 239.5h1M459 236.5h1M464 239.5h1M470 242.5h1M450 241.5h1M443 239.5h1M461 235.5h1M452 233.5h1M462 238.5h1M459 249.5h1M458 240.5h1M454 240.5h1M445 233.5h1M458 251.5h1M460 237.5h1M462 250.5h1M461 251.5h1M454 246.5h1M450 242.5h1M445 236.5h1M447 235.5h1M456 240.5h1M453 240.5h1M460 243.5h1M450 228.5h1M452 246.5h1M462 240.5h1M463 236.5h1M448 241.5h1M457 231.5h1M459 229.5h1M472 242.5h1M468 247.5h1M459 222.5h1M454 237.5h1M454 241.5h1M468 239.5h1M448 238.5h1M448 249.5h1M447 234.5h1M451 242.5h1M463 247.5h1M441 243.5h1M464 236.5h1M466 246.5h1M457 245.5h1M460 249.5h1M462 239.5h1M467 236.5h1M467 247.5h1M455 231.5h1M464 243.5h1M462 237.5h1M451 237.5h1M451 235.5h1M454 245.5h1M469 231.5h1M462 232.5h1M463 243.5h1M444 243.5h1M460 228.5h1M451 244.5h1M471 249.5h1M463 239.5h1M454 233.5h1M469 238.5h1M459 250.5h1M458 245.5h1M458 231.5h1M465 243.5h1M449 234.5h1M471 245.5h1M466 244.5h1M453 243.5h1M457 243.5h1M463 241.5h1M459 248.5h1M440 237.5h1M449 239.5h1M463 250.5h1M459 242.5h1M460 217.5h1M462 222.5h1M461 217.5h1M448 277.5h1M443 274.5h1M442 282.5h1M448 272.5h1M449 274.5h1M447 278.5h1M444 274.5h1M440 271.5h1M441 274.5h1M443 275.5h1M442 272.5h1M447 272.5h1M446 278.5h1M446 273.5h1M444 281.5h1M445 274.5h1" stroke="#6cc8a0" stroke-opacity="0.9" stroke-width="1" fill="none"/>
<path d="M456 257.5h1M439 265.5h1M452 267.5h1M454 253.5h1M441 251.5h1M450 268.5h1M446 250.5h1M438 262.5h1M452 251.5h1M448 271.5h1M453 250.5h1M451 269.5h1M443 273.5h1M440 257.5h1M451 270.5h1M442 253.5h1M437 252.5h1M449 249.5h1M451 246.5h1M443 253.5h1M438 258.5h1M445 268.5h1M445 246.5h1M454 234.5h1M455 240.5h1M450 232.5h1M451 243.5h1M464 244.5h1M456 228.5h1M457 234.5h1M463 224.5h1M468 236.5h1M453 238.5h1M466 241.5h1M457 240.5h1M458 242.5h1M458 243.5h1M468 243.5h1M462 241.5h1M460 246.5h1M448 230.5h1M462 242.5h1M459 234.5h1M453 237.5h1M462 233.5h1M459 219.5h1M445 281.5h1M444 276.5h1" stroke="#6cc8a0" stroke-opacity="1.0" stroke-width="1" fill="none"/>
<path d="M448 264.5h1M446 257.5h1M447 266.5h1M444 262.5h1M452 256.5h1M451 262.5h1M446 266.5h1M442 258.5h1M442 259.5h1M449 254.5h1M446 265.5h1M452 258.5h1M446 260.5h1M452 259.5h1M446 258.5h1M453 263.5h1M452 257.5h1M448 260.5h1M450 260.5h1M445 255.5h1M453 256.5h1M442 265.5h1M453 255.5h1M442 255.5h1M440 260.5h1M441 260.5h1M449 257.5h1M444 255.5h1M445 254.5h1M451 261.5h1M441 255.5h1M455 257.5h1M453 258.5h1M445 265.5h1M452 260.5h1M441 262.5h1M439 262.5h1M447 259.5h1M448 257.5h1M448 259.5h1M448 253.5h1M442 264.5h1M450 264.5h1M448 265.5h1M456 241.5h1M447 254.5h1M452 238.5h1M453 239.5h1M454 239.5h1M453 236.5h1M441 264.5h1M443 264.5h1" stroke="#28c47c" stroke-opacity="0.8" stroke-width="1" fill="none"/>
<path d="M444 259.5h1M446 259.5h1M443 258.5h1M445 260.5h1M453 262.5h1M444 261.5h1M446 254.5h1M446 256.5h1M452 263.5h1M449 258.5h1M441 263.5h1M448 258.5h1M444 260.5h1M451 265.5h1M446 263.5h1M448 256.5h1M448 261.5h1M447 255.5h1M443 260.5h1M450 259.5h1M448 263.5h1M441 261.5h1M448 255.5h1M443 265.5h1M449 260.5h1M441 259.5h1M451 260.5h1M449 265.5h1M445 259.5h1M453 257.5h1M443 262.5h1M442 261.5h1M449 263.5h1M449 259.5h1M455 256.5h1M447 257.5h1M451 263.5h1M444 265.5h1M447 260.5h1M452 261.5h1M445 256.5h1M449 262.5h1M447 258.5h1M445 262.5h1M443 261.5h1M454 263.5h1M454 256.5h1M449 256.5h1M454 260.5h1M450 257.5h1M441 257.5h1M454 261.5h1M447 263.5h1M447 265.5h1M447 256.5h1M449 264.5h1M439 261.5h1M450 255.5h1M442 262.5h1M450 262.5h1M439 259.5h1M451 264.5h1M451 256.5h1M454 257.5h1M443 259.5h1M450 261.5h1M449 255.5h1M440 263.5h1M442 257.5h1M451 259.5h1M445 261.5h1M447 261.5h1M442 263.5h1M446 255.5h1M443 263.5h1M453 260.5h1M450 265.5h1M443 257.5h1M447 264.5h1M446 261.5h1M444 258.5h1M455 255.5h1M451 257.5h1M454 258.5h1M453 261.5h1M445 257.5h1M448 254.5h1M449 266.5h1M440 262.5h1M440 261.5h1M448 262.5h1M450 263.5h1M447 262.5h1M449 261.5h1M444 264.5h1M448 266.5h1M450 266.5h1M445 263.5h1M442 260.5h1M454 262.5h1M446 264.5h1M450 258.5h1M450 254.5h1M451 258.5h1M446 262.5h1M453 259.5h1M445 264.5h1M444 263.5h1M452 235.5h1M457 241.5h1M453 235.5h1M452 239.5h1M452 237.5h1M452 236.5h1" stroke="#28c47c" stroke-opacity="1.0" stroke-width="1" fill="none"/>
</g>
<path d="M417 251.4H515.7" stroke="#333" stroke-width="1.25"/>
<text x="459.6" y="185.8" font-family="'Liberation Serif',serif" font-weight="bold" stroke="#000" stroke-width="0.25" font-size="8.6" text-anchor="middle">Gated CD4+</text>
<text x="424.7" y="207.6" font-family="'Liberation Sans',sans-serif" font-weight="bold" stroke="#000" stroke-width="0.3" font-size="14.2">iv</text>
<text x="507.5" y="206.5" font-family="'Liberation Serif',serif" font-weight="bold" stroke="#000" stroke-width="0.25" font-size="10" text-anchor="end">35%</text>
<rect x="166.3" y="355" width="99.2" height="100.4" fill="none" stroke="#4a4a4a" stroke-width="1.3"/>
<path d="M166.3 455.4h-2.0 M166.3 447.84h-1.2 M166.3 443.42h-1.2 M166.3 440.29h-1.2 M166.3 437.86h-1.2 M166.3 435.87h-1.2 M166.3 434.19h-1.2 M166.3 432.73h-1.2 M166.3 431.45h-1.2 M166.3 430.3h-2.0 M166.3 422.74h-1.2 M166.3 418.32h-1.2 M166.3 415.19h-1.2 M166.3 412.76h-1.2 M166.3 410.77h-1.2 M166.3 409.09h-1.2 M166.3 407.63h-1.2 M166.3 406.35h-1.2 M166.3 405.2h-2.0 M166.3 397.64h-1.2 M166.3 393.22h-1.2 M166.3 390.09h-1.2 M166.3 387.66h-1.2 M166.3 385.67h-1.2 M166.3 383.99h-1.2 M166.3 382.53h-1.2 M166.3 381.25h-1.2 M166.3 380.1h-2.0 M166.3 372.54h-1.2 M166.3 368.12h-1.2 M166.3 364.99h-1.2 M166.3 362.56h-1.2 M166.3 360.57h-1.2 M166.3 358.89h-1.2 M166.3 357.43h-1.2 M166.3 356.15h-1.2 M166.3 355h-2 M166.3 455.4v2.2 M170.27 455.4v1.4 M174.24 455.4v1.4 M178.2 455.4v1.4 M182.17 455.4v1.4 M186.14 455.4v2.2 M190.11 455.4v1.4 M194.08 455.4v1.4 M198.04 455.4v1.4 M202.01 455.4v1.4 M205.98 455.4v2.2 M209.95 455.4v1.4 M213.92 455.4v1.4 M217.88 455.4v1.4 M221.85 455.4v1.4 M225.82 455.4v2.2 M229.79 455.4v1.4 M233.76 455.4v1.4 M237.72 455.4v1.4 M241.69 455.4v1.4 M245.66 455.4v2.2 M249.63 455.4v1.4 M253.6 455.4v1.4 M257.56 455.4v1.4 M261.53 455.4v1.4 M265.5 455.4v2.2" stroke="#111" stroke-width="1.0" fill="none"/>
<text x="167.7" y="463" font-family="'Liberation Sans',sans-serif" font-size="5.6" text-anchor="middle" fill="#111" stroke="#111" stroke-width="0.18">0</text>
<text x="186.74" y="463" font-family="'Liberation Sans',sans-serif" font-size="5.6" text-anchor="middle" fill="#111" stroke="#111" stroke-width="0.18">200</text>
<text x="205.78" y="463" font-family="'Liberation Sans',sans-serif" font-size="5.6" text-anchor="middle" fill="#111" stroke="#111" stroke-width="0.18">400</text>
<text x="224.82" y="463" font-family="'Liberation Sans',sans-serif" font-size="5.6" text-anchor="middle" fill="#111" stroke="#111" stroke-width="0.18">600</text>
<text x="243.86" y="463" font-family="'Liberation Sans',sans-serif" font-size="5.6" text-anchor="middle" fill="#111" stroke="#111" stroke-width="0.18">800</text>
<text x="262.9" y="463" font-family="'Liberation Sans',sans-serif" font-size="5.6" text-anchor="middle" fill="#111" stroke="#111" stroke-width="0.18">1000</text>
<text transform="translate(162.3,455.8) rotate(-90)" font-family="'Liberation Sans',sans-serif" font-size="5.8" text-anchor="middle" fill="#111" stroke="#111" stroke-width="0.22">10<tspan font-size="4.2" dy="-2.7">0</tspan></text>
<text transform="translate(162.3,430.7) rotate(-90)" font-family="'Liberation Sans',sans-serif" font-size="5.8" text-anchor="middle" fill="#111" stroke="#111" stroke-width="0.22">10<tspan font-size="4.2" dy="-2.7">1</tspan></text>
<text transform="translate(162.3,405.6) rotate(-90)" font-family="'Liberation Sans',sans-serif" font-size="5.8" text-anchor="middle" fill="#111" stroke="#111" stroke-width="0.22">10<tspan font-size="4.2" dy="-2.7">2</tspan></text>
<text transform="translate(162.3,380.5) rotate(-90)" font-family="'Liberation Sans',sans-serif" font-size="5.8" text-anchor="middle" fill="#111" stroke="#111" stroke-width="0.22">10<tspan font-size="4.2" dy="-2.7">3</tspan></text>
<text transform="translate(162.3,355.4) rotate(-90)" font-family="'Liberation Sans',sans-serif" font-size="5.8" text-anchor="middle" fill="#111" stroke="#111" stroke-width="0.22">10<tspan font-size="4.2" dy="-2.7">4</tspan></text>
<g filter="url(#soft)">
<path d="M209 414.5h1M219 418.5h1M191 426.5h1M193 431.5h1M188 422.5h1M196 431.5h1M190 423.5h1M209 428.5h1M206 429.5h1M208 412.5h1M205 432.5h1M209 435.5h1M192 419.5h1M192 428.5h1M192 420.5h1M209 431.5h1M203 430.5h1M187 426.5h1M188 431.5h1M208 421.5h1M189 421.5h1M205 430.5h1M206 427.5h1M191 434.5h1M190 411.5h1M206 428.5h1M200 433.5h1M212 414.5h1M187 423.5h1M196 435.5h1M208 427.5h1M188 418.5h1M205 428.5h1M189 426.5h1M191 432.5h1M204 431.5h1M201 431.5h1M207 433.5h1M187 425.5h1M186 424.5h1M210 425.5h1M209 425.5h1M200 434.5h1M191 417.5h1M201 432.5h1M196 432.5h1M199 404.5h1M189 410.5h1M193 411.5h1M197 403.5h1M199 400.5h1M188 402.5h1M193 409.5h1M192 411.5h1M203 388.5h1M206 394.5h1M207 412.5h1M208 420.5h1M207 418.5h1M187 410.5h1M201 396.5h1M196 399.5h1M192 403.5h1M210 420.5h1M206 408.5h1M209 418.5h1M203 405.5h1M205 405.5h1M198 403.5h1M204 408.5h1M193 399.5h1M193 402.5h1M196 397.5h1M192 418.5h1M198 404.5h1M195 405.5h1M192 407.5h1M201 400.5h1M208 406.5h1M191 407.5h1M192 412.5h1M195 401.5h1M195 411.5h1M194 404.5h1M206 411.5h1M195 396.5h1M190 402.5h1M195 410.5h1M207 408.5h1M206 413.5h1M201 394.5h1M194 393.5h1M193 404.5h1M209 417.5h1M205 398.5h1M188 403.5h1M210 421.5h1M196 398.5h1M205 406.5h1M197 401.5h1M187 421.5h1M206 407.5h1M202 394.5h1M193 413.5h1M204 432.5h1M207 414.5h1M196 405.5h1M209 402.5h1M207 417.5h1M192 415.5h1M192 399.5h1M195 412.5h1M204 406.5h1M203 402.5h1M197 405.5h1M206 415.5h1M208 415.5h1M198 401.5h1M194 403.5h1M200 402.5h1M191 408.5h1M207 413.5h1M204 402.5h1M196 408.5h1M195 403.5h1M200 398.5h1M203 401.5h1M189 403.5h1M210 408.5h1M209 412.5h1M194 412.5h1M196 407.5h1M201 383.5h1M190 410.5h1M186 410.5h1M193 408.5h1M188 408.5h1M189 402.5h1" stroke="#f58a60" stroke-opacity="0.6" stroke-width="1" fill="none"/>
<path d="M201 430.5h1M190 424.5h1M204 429.5h1M189 420.5h1M195 432.5h1M192 426.5h1M198 431.5h1M191 423.5h1M208 426.5h1M193 414.5h1M188 415.5h1M208 424.5h1M208 418.5h1M191 415.5h1M191 418.5h1M194 407.5h1M194 411.5h1M202 403.5h1M201 404.5h1M201 402.5h1M194 400.5h1M203 407.5h1M199 401.5h1M193 412.5h1M195 404.5h1M193 405.5h1M199 403.5h1M205 410.5h1M197 404.5h1M195 402.5h1M198 399.5h1M196 412.5h1M205 413.5h1M191 414.5h1M201 403.5h1M205 414.5h1" stroke="#f58a60" stroke-opacity="0.9" stroke-width="1" fill="none"/>
<path d="M190 425.5h1M202 431.5h1M191 422.5h1M200 404.5h1M205 412.5h1M196 406.5h1M204 405.5h1" stroke="#f58a60" stroke-opacity="1.0" stroke-width="1" fill="none"/>
<path d="M197 429.5h1M197 428.5h1M199 425.5h1M203 429.5h1M200 409.5h1M199 430.5h1M203 413.5h1M203 425.5h1M192 425.5h1M203 412.5h1M192 422.5h1M205 424.5h1M204 428.5h1M200 428.5h1M207 420.5h1M197 417.5h1M195 429.5h1M207 425.5h1M193 426.5h1M201 429.5h1M199 413.5h1M202 413.5h1M194 419.5h1M193 424.5h1M198 427.5h1M205 420.5h1M197 430.5h1M194 428.5h1M193 421.5h1M202 429.5h1M205 419.5h1M203 421.5h1M204 416.5h1M193 416.5h1M199 409.5h1M204 411.5h1M197 412.5h1M201 408.5h1M204 417.5h1M198 409.5h1M197 416.5h1M197 413.5h1M200 410.5h1M192 423.5h1M199 410.5h1M198 414.5h1M203 414.5h1M199 406.5h1M202 406.5h1M195 414.5h1M201 405.5h1M197 420.5h1M193 418.5h1M202 407.5h1M207 421.5h1M204 415.5h1M197 414.5h1M203 410.5h1M194 417.5h1M198 405.5h1M197 410.5h1M203 411.5h1M195 415.5h1M202 416.5h1M203 415.5h1" stroke="#f5501a" stroke-opacity="0.7" stroke-width="1" fill="none"/>
<path d="M198 430.5h1M195 430.5h1M195 418.5h1M201 426.5h1M196 427.5h1M200 429.5h1M201 425.5h1M203 418.5h1M206 424.5h1M193 423.5h1M199 426.5h1M194 422.5h1M205 422.5h1M201 416.5h1M194 424.5h1M201 413.5h1M204 424.5h1M195 425.5h1M199 411.5h1M200 414.5h1M193 422.5h1M193 417.5h1M193 420.5h1M206 422.5h1M204 427.5h1M206 425.5h1M193 428.5h1M206 418.5h1M204 420.5h1M192 424.5h1M196 417.5h1M200 419.5h1M201 417.5h1M193 427.5h1M205 426.5h1M205 416.5h1M193 425.5h1M196 430.5h1M196 418.5h1M204 426.5h1M207 419.5h1M202 409.5h1M197 427.5h1M205 417.5h1M194 415.5h1M194 427.5h1M197 418.5h1M196 415.5h1M205 418.5h1M194 423.5h1M195 417.5h1M198 413.5h1M198 410.5h1M202 414.5h1M200 407.5h1M198 412.5h1M199 405.5h1M206 419.5h1M199 407.5h1M199 415.5h1M201 411.5h1M197 408.5h1M204 414.5h1M197 409.5h1M199 412.5h1M203 416.5h1M201 409.5h1M203 423.5h1M200 408.5h1" stroke="#f5501a" stroke-opacity="0.9" stroke-width="1" fill="none"/>
<path d="M207 423.5h1M202 418.5h1M204 421.5h1M199 419.5h1M198 422.5h1M201 415.5h1M201 423.5h1M205 423.5h1M200 417.5h1M205 425.5h1M202 410.5h1M195 428.5h1M195 416.5h1M203 419.5h1M199 416.5h1M200 423.5h1M200 425.5h1M196 421.5h1M195 426.5h1M201 424.5h1M202 422.5h1M202 419.5h1M201 418.5h1M205 421.5h1M203 422.5h1M199 423.5h1M199 417.5h1M198 424.5h1M199 427.5h1M201 420.5h1M202 428.5h1M203 424.5h1M202 423.5h1M201 419.5h1M201 414.5h1M200 430.5h1M199 418.5h1M199 421.5h1M198 420.5h1M194 418.5h1M195 421.5h1M201 422.5h1M198 416.5h1M204 422.5h1M202 425.5h1M203 420.5h1M200 427.5h1M204 418.5h1M196 429.5h1M203 426.5h1M194 425.5h1M198 418.5h1M196 424.5h1M199 424.5h1M196 425.5h1M200 411.5h1M194 421.5h1M199 420.5h1M196 428.5h1M201 412.5h1M198 423.5h1M200 415.5h1M200 421.5h1M196 419.5h1M195 422.5h1M202 424.5h1M202 420.5h1M202 421.5h1M198 419.5h1M201 421.5h1M196 426.5h1M198 425.5h1M200 420.5h1M195 424.5h1M195 427.5h1M197 424.5h1M204 419.5h1M197 419.5h1M196 423.5h1M206 420.5h1M198 426.5h1M196 420.5h1M199 414.5h1M200 422.5h1M200 426.5h1M199 428.5h1M198 421.5h1M193 419.5h1M197 423.5h1M200 424.5h1M198 429.5h1M202 426.5h1M201 427.5h1M196 422.5h1M198 415.5h1M197 426.5h1M201 428.5h1M196 416.5h1M198 428.5h1M195 419.5h1M197 421.5h1M202 411.5h1M203 427.5h1M197 425.5h1M204 423.5h1M198 417.5h1M202 427.5h1M199 422.5h1M202 417.5h1M197 422.5h1M194 416.5h1M206 423.5h1M200 416.5h1M202 415.5h1M200 418.5h1M200 412.5h1M202 412.5h1M197 415.5h1M199 408.5h1M196 414.5h1M201 407.5h1M200 413.5h1M196 410.5h1M200 406.5h1M198 407.5h1M202 408.5h1M198 408.5h1M198 411.5h1" stroke="#f5501a" stroke-opacity="1.0" stroke-width="1" fill="none"/>
</g>
<path d="M166.3 422.7H265.5" stroke="#333" stroke-width="1.25"/>
<text x="218.4" y="349.6" font-family="'Liberation Serif',serif" font-weight="bold" stroke="#000" stroke-width="0.25" font-size="8.6" text-anchor="middle">Gated CD11b+</text>
<text x="253.2" y="449.4" font-family="'Liberation Sans',sans-serif" font-weight="bold" stroke="#000" stroke-width="0.3" font-size="14.2">ii</text>
<text x="256.4" y="369" font-family="'Liberation Serif',serif" font-weight="bold" stroke="#000" stroke-width="0.25" font-size="10" text-anchor="end">40%</text>
<text x="173.8" y="368.8" font-family="'Liberation Serif',serif" font-weight="bold" stroke="#000" stroke-width="0.25" font-size="10.3">No IL-6</text>
<rect x="291.8" y="355" width="98.9" height="100.4" fill="none" stroke="#4a4a4a" stroke-width="1.3"/>
<path d="M291.8 455.4h-2.0 M291.8 447.84h-1.2 M291.8 443.42h-1.2 M291.8 440.29h-1.2 M291.8 437.86h-1.2 M291.8 435.87h-1.2 M291.8 434.19h-1.2 M291.8 432.73h-1.2 M291.8 431.45h-1.2 M291.8 430.3h-2.0 M291.8 422.74h-1.2 M291.8 418.32h-1.2 M291.8 415.19h-1.2 M291.8 412.76h-1.2 M291.8 410.77h-1.2 M291.8 409.09h-1.2 M291.8 407.63h-1.2 M291.8 406.35h-1.2 M291.8 405.2h-2.0 M291.8 397.64h-1.2 M291.8 393.22h-1.2 M291.8 390.09h-1.2 M291.8 387.66h-1.2 M291.8 385.67h-1.2 M291.8 383.99h-1.2 M291.8 382.53h-1.2 M291.8 381.25h-1.2 M291.8 380.1h-2.0 M291.8 372.54h-1.2 M291.8 368.12h-1.2 M291.8 364.99h-1.2 M291.8 362.56h-1.2 M291.8 360.57h-1.2 M291.8 358.89h-1.2 M291.8 357.43h-1.2 M291.8 356.15h-1.2 M291.8 355h-2 M291.8 455.4v2.2 M295.76 455.4v1.4 M299.71 455.4v1.4 M303.67 455.4v1.4 M307.62 455.4v1.4 M311.58 455.4v2.2 M315.54 455.4v1.4 M319.49 455.4v1.4 M323.45 455.4v1.4 M327.4 455.4v1.4 M331.36 455.4v2.2 M335.32 455.4v1.4 M339.27 455.4v1.4 M343.23 455.4v1.4 M347.18 455.4v1.4 M351.14 455.4v2.2 M355.1 455.4v1.4 M359.05 455.4v1.4 M363.01 455.4v1.4 M366.96 455.4v1.4 M370.92 455.4v2.2 M374.88 455.4v1.4 M378.83 455.4v1.4 M382.79 455.4v1.4 M386.74 455.4v1.4 M390.7 455.4v2.2" stroke="#111" stroke-width="1.0" fill="none"/>
<text x="293.2" y="463" font-family="'Liberation Sans',sans-serif" font-size="5.6" text-anchor="middle" fill="#111" stroke="#111" stroke-width="0.18">0</text>
<text x="312.18" y="463" font-family="'Liberation Sans',sans-serif" font-size="5.6" text-anchor="middle" fill="#111" stroke="#111" stroke-width="0.18">200</text>
<text x="331.16" y="463" font-family="'Liberation Sans',sans-serif" font-size="5.6" text-anchor="middle" fill="#111" stroke="#111" stroke-width="0.18">400</text>
<text x="350.14" y="463" font-family="'Liberation Sans',sans-serif" font-size="5.6" text-anchor="middle" fill="#111" stroke="#111" stroke-width="0.18">600</text>
<text x="369.12" y="463" font-family="'Liberation Sans',sans-serif" font-size="5.6" text-anchor="middle" fill="#111" stroke="#111" stroke-width="0.18">800</text>
<text x="388.1" y="463" font-family="'Liberation Sans',sans-serif" font-size="5.6" text-anchor="middle" fill="#111" stroke="#111" stroke-width="0.18">1000</text>
<text transform="translate(287.8,455.8) rotate(-90)" font-family="'Liberation Sans',sans-serif" font-size="5.8" text-anchor="middle" fill="#111" stroke="#111" stroke-width="0.22">10<tspan font-size="4.2" dy="-2.7">0</tspan></text>
<text transform="translate(287.8,430.7) rotate(-90)" font-family="'Liberation Sans',sans-serif" font-size="5.8" text-anchor="middle" fill="#111" stroke="#111" stroke-width="0.22">10<tspan font-size="4.2" dy="-2.7">1</tspan></text>
<text transform="translate(287.8,405.6) rotate(-90)" font-family="'Liberation Sans',sans-serif" font-size="5.8" text-anchor="middle" fill="#111" stroke="#111" stroke-width="0.22">10<tspan font-size="4.2" dy="-2.7">2</tspan></text>
<text transform="translate(287.8,380.5) rotate(-90)" font-family="'Liberation Sans',sans-serif" font-size="5.8" text-anchor="middle" fill="#111" stroke="#111" stroke-width="0.22">10<tspan font-size="4.2" dy="-2.7">3</tspan></text>
<text transform="translate(287.8,355.4) rotate(-90)" font-family="'Liberation Sans',sans-serif" font-size="5.8" text-anchor="middle" fill="#111" stroke="#111" stroke-width="0.22">10<tspan font-size="4.2" dy="-2.7">4</tspan></text>
<g filter="url(#soft)">
<path d="M334 429.5h1M317 429.5h1M320 435.5h1M311 419.5h1M317 420.5h1M333 433.5h1M321 432.5h1M314 421.5h1M318 417.5h1M329 434.5h1M331 437.5h1M320 436.5h1M316 427.5h1M315 431.5h1M316 417.5h1M335 425.5h1M337 428.5h1M318 434.5h1M318 430.5h1M324 437.5h1M315 428.5h1M324 434.5h1M317 428.5h1M317 424.5h1M336 426.5h1M324 435.5h1M333 432.5h1M318 429.5h1M318 427.5h1M323 438.5h1M317 426.5h1M324 436.5h1M315 420.5h1M321 435.5h1M318 418.5h1M319 431.5h1M320 434.5h1M334 426.5h1M336 431.5h1M331 420.5h1M331 431.5h1M336 418.5h1M317 438.5h1M335 426.5h1M318 415.5h1M330 414.5h1M323 406.5h1M316 422.5h1M322 411.5h1M315 412.5h1M328 410.5h1M318 410.5h1M332 421.5h1M330 408.5h1M316 409.5h1M326 408.5h1M334 409.5h1M326 400.5h1M316 399.5h1M331 417.5h1M324 405.5h1M332 411.5h1M327 405.5h1M324 406.5h1M313 407.5h1M326 401.5h1M319 411.5h1M329 410.5h1M334 414.5h1M320 401.5h1M315 414.5h1M318 404.5h1M319 410.5h1M326 409.5h1M336 420.5h1M317 413.5h1M317 410.5h1M325 406.5h1M334 420.5h1M321 408.5h1M319 413.5h1M334 424.5h1M333 413.5h1M316 406.5h1M327 409.5h1M312 410.5h1M332 418.5h1M332 414.5h1M331 407.5h1M318 408.5h1M329 412.5h1M322 405.5h1M322 412.5h1M313 411.5h1M316 416.5h1M315 415.5h1M326 404.5h1M324 410.5h1M334 416.5h1M325 408.5h1M321 407.5h1M326 402.5h1M317 425.5h1M335 416.5h1M328 409.5h1M318 414.5h1M320 413.5h1M322 407.5h1M317 401.5h1M317 408.5h1M315 408.5h1M331 419.5h1M316 401.5h1M332 406.5h1M316 420.5h1M328 396.5h1M322 408.5h1M321 405.5h1" stroke="#f58a60" stroke-opacity="0.6" stroke-width="1" fill="none"/>
<path d="M331 430.5h1M320 432.5h1M317 422.5h1M330 434.5h1M328 434.5h1M326 434.5h1M318 431.5h1M315 423.5h1M330 415.5h1M333 428.5h1M328 433.5h1M317 427.5h1M334 422.5h1M317 421.5h1M323 434.5h1M314 422.5h1M321 411.5h1M315 411.5h1M325 409.5h1M331 412.5h1M317 419.5h1M320 403.5h1M328 401.5h1M330 411.5h1M330 412.5h1M319 409.5h1M322 402.5h1M332 412.5h1M330 406.5h1M322 410.5h1M316 415.5h1M331 413.5h1M323 410.5h1M320 407.5h1M324 407.5h1M317 407.5h1" stroke="#f58a60" stroke-opacity="0.9" stroke-width="1" fill="none"/>
<path d="M332 429.5h1M332 420.5h1M320 409.5h1M319 414.5h1M330 409.5h1M324 409.5h1M325 410.5h1" stroke="#f58a60" stroke-opacity="1.0" stroke-width="1" fill="none"/>
<path d="M330 431.5h1M326 427.5h1M329 430.5h1M319 425.5h1M325 419.5h1M325 418.5h1M318 420.5h1M328 420.5h1M327 427.5h1M319 422.5h1M332 423.5h1M329 427.5h1M331 424.5h1M321 423.5h1M322 420.5h1M318 426.5h1M327 430.5h1M324 432.5h1M329 428.5h1M322 425.5h1M320 415.5h1M322 430.5h1M332 424.5h1M328 432.5h1M331 426.5h1M329 429.5h1M328 431.5h1M326 431.5h1M321 419.5h1M318 421.5h1M322 433.5h1M320 425.5h1M330 421.5h1M326 420.5h1M322 432.5h1M332 427.5h1M331 429.5h1M319 428.5h1M320 423.5h1M325 416.5h1M326 412.5h1M323 411.5h1M325 413.5h1M325 411.5h1M324 417.5h1M319 415.5h1M321 414.5h1M320 416.5h1M323 413.5h1M319 416.5h1M326 433.5h1M326 410.5h1M329 414.5h1M328 415.5h1M323 433.5h1M325 417.5h1M328 413.5h1M326 415.5h1" stroke="#f5501a" stroke-opacity="0.7" stroke-width="1" fill="none"/>
<path d="M329 432.5h1M332 428.5h1M329 425.5h1M330 425.5h1M319 426.5h1M332 425.5h1M331 422.5h1M319 427.5h1M327 420.5h1M324 429.5h1M328 430.5h1M320 431.5h1M330 429.5h1M331 427.5h1M320 427.5h1M321 431.5h1M321 422.5h1M319 421.5h1M320 421.5h1M325 432.5h1M319 429.5h1M322 423.5h1M322 429.5h1M322 431.5h1M324 433.5h1M327 423.5h1M323 430.5h1M326 419.5h1M320 422.5h1M324 414.5h1M319 417.5h1M320 418.5h1M330 430.5h1M323 432.5h1M331 423.5h1M327 422.5h1M324 430.5h1M321 418.5h1M323 418.5h1M324 423.5h1M319 424.5h1M326 417.5h1M328 425.5h1M320 426.5h1M324 418.5h1M329 423.5h1M329 422.5h1M324 422.5h1M327 432.5h1M321 415.5h1M323 415.5h1M326 421.5h1M325 423.5h1M327 413.5h1M326 413.5h1M321 416.5h1M327 414.5h1M319 419.5h1M321 421.5h1M327 410.5h1M320 414.5h1M324 411.5h1M320 417.5h1M328 411.5h1M322 415.5h1M329 418.5h1" stroke="#f5501a" stroke-opacity="0.9" stroke-width="1" fill="none"/>
<path d="M326 429.5h1M332 426.5h1M327 424.5h1M323 423.5h1M324 426.5h1M326 418.5h1M325 431.5h1M326 425.5h1M328 426.5h1M321 417.5h1M325 421.5h1M325 430.5h1M325 428.5h1M330 424.5h1M332 422.5h1M323 431.5h1M326 428.5h1M323 426.5h1M321 427.5h1M330 423.5h1M320 424.5h1M325 422.5h1M327 421.5h1M327 431.5h1M322 421.5h1M324 424.5h1M326 424.5h1M318 424.5h1M326 423.5h1M330 426.5h1M327 429.5h1M324 425.5h1M319 423.5h1M326 426.5h1M323 428.5h1M322 427.5h1M322 426.5h1M331 425.5h1M321 426.5h1M323 425.5h1M326 430.5h1M322 424.5h1M329 431.5h1M321 425.5h1M324 419.5h1M328 424.5h1M330 422.5h1M330 427.5h1M328 428.5h1M327 428.5h1M324 420.5h1M322 417.5h1M320 420.5h1M323 429.5h1M329 421.5h1M325 424.5h1M328 429.5h1M322 422.5h1M325 420.5h1M326 422.5h1M328 427.5h1M325 426.5h1M318 422.5h1M328 417.5h1M320 429.5h1M321 428.5h1M323 422.5h1M320 428.5h1M325 427.5h1M328 418.5h1M322 416.5h1M324 431.5h1M322 428.5h1M323 424.5h1M321 424.5h1M325 425.5h1M328 419.5h1M321 430.5h1M323 420.5h1M327 417.5h1M327 425.5h1M331 421.5h1M323 427.5h1M328 422.5h1M329 424.5h1M321 429.5h1M323 419.5h1M319 418.5h1M324 427.5h1M329 416.5h1M325 429.5h1M324 421.5h1M328 423.5h1M329 426.5h1M322 419.5h1M328 421.5h1M323 416.5h1M327 419.5h1M327 426.5h1M328 412.5h1M324 413.5h1M327 415.5h1M325 414.5h1M326 414.5h1M322 413.5h1M324 415.5h1M327 416.5h1M329 415.5h1M323 417.5h1M324 416.5h1M327 412.5h1M322 414.5h1M325 412.5h1M325 415.5h1" stroke="#f5501a" stroke-opacity="1.0" stroke-width="1" fill="none"/>
</g>
<path d="M291.8 422.9H390.7" stroke="#333" stroke-width="1.25"/>
<text x="339.3" y="349.6" font-family="'Liberation Serif',serif" font-weight="bold" stroke="#000" stroke-width="0.25" font-size="8.6" text-anchor="middle">Gated CD11b+</text>
<text x="374.8" y="449.4" font-family="'Liberation Sans',sans-serif" font-weight="bold" stroke="#000" stroke-width="0.3" font-size="14.2">iii</text>
<text x="382" y="369" font-family="'Liberation Serif',serif" font-weight="bold" stroke="#000" stroke-width="0.25" font-size="10" text-anchor="end">24%</text>
<text x="296.9" y="368.8" font-family="'Liberation Serif',serif" font-weight="bold" stroke="#000" stroke-width="0.25" font-size="10.3">+ IL-6</text>
</g>
</svg>
</body></html>
